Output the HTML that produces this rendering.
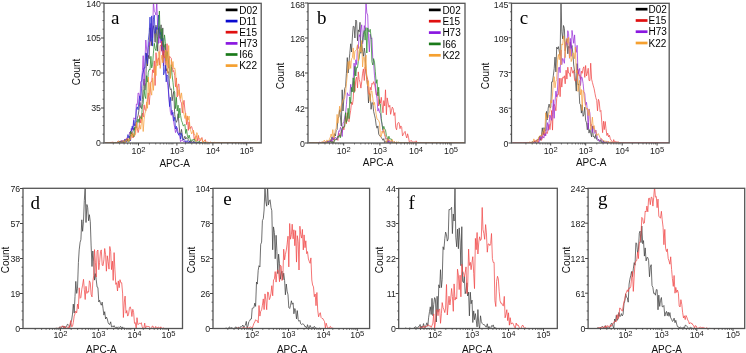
<!DOCTYPE html><html><head><meta charset="utf-8"><style>html,body{margin:0;padding:0;background:#fff;}svg{display:block;filter:blur(0.3px);}text{font-family:"Liberation Sans",sans-serif;fill:#111;}.t{font-size:8.8px;fill:#222;}.lab{font-size:10px;}.leg{font-size:10px;fill:#000;}.let{font-family:"Liberation Serif",serif;font-size:19px;fill:#000;}</style></head><body>
<svg width="746" height="353" viewBox="0 0 746 353">
<rect width="746" height="353" fill="#fff"/>
<clipPath id="ca"><rect x="104" y="3.3" width="157.2" height="139.7"/></clipPath>
<g clip-path="url(#ca)" fill="none" stroke-width="0.75" stroke-linejoin="miter">
<polyline stroke="#404040" points="105,143 105.8,143 106.7,143 107.5,143 108.4,143 109.2,143 110.1,142.7 110.9,143 111.8,142.6 112.6,142.8 113.5,142.9 114.3,143 115.2,142.6 116,142.8 116.9,142.7 117.7,142.3 118.6,143 119.4,143 120.3,142.8 121.1,143 122,142.6 122.8,141.2 123.7,140.2 124.5,141.3 125.4,141.7 126.2,140.6 127.1,139.2 127.9,140.8 128.8,139.8 129.6,137.5 130.5,135.4 131.3,135.3 132.2,132.3 133,131.5 133.9,128 134.7,129.7 135.6,124.3 136.4,123.2 137.3,117.9 138.1,115.6 139,109.9 139.8,102.4 140.7,107.5 141.5,108.6 142.4,99.6 143.2,86.4 144.1,78.9 144.9,90.1 145.8,82.4 146.6,53.4 147.5,66 148.3,55.3 149.2,58.7 150,27.8 150.9,37 151.7,45.7 152.6,30 153.4,25.7 154.3,30.2 155.1,42.3 156,25.2 156.8,38.1 157.7,51.2 158.5,28 159.4,38.3 160.2,34.8 161.1,24.8 161.9,51 162.8,27.9 163.6,56.8 164.5,46 165.3,44.1 166.2,71.1 167,68.6 167.9,73.1 168.7,71.6 169.6,86 170.4,89.6 171.3,88.8 172.1,100.8 173,94.9 173.8,91.4 174.7,114.4 175.5,119.4 176.4,122.3 177.2,120.3 178.1,113.7 178.9,123.2 179.8,132.7 180.6,134.5 181.5,129.4 182.3,134.7 183.2,140 184,138.5 184.9,136.2 185.7,139.1 186.6,137.6 187.4,138.7 188.3,139.6 189.1,141 190,143 190.8,140.9 191.7,141.8 192.5,140.7 193.4,141 194.2,142.8 195.1,142.7 195.9,142.7 196.8,143 197.6,142.3 198.5,142.2 199.3,142.6 200.2,142.7 201,143 201.9,142.8 202.7,143 203.6,142.9 204.4,142.7 205.3,142.9 206.1,143 207,143 207.8,142.8 208.7,142.9 209.5,143 210.4,143 211.2,143 212.1,143 212.9,143 213.8,143 214.6,143 215.5,143 216.3,143 217.2,143 218,143 218.9,143 219.7,143 220.6,143 221.4,143 222.3,143 223.1,143 224,143 224.8,143 225.7,143 226.5,143 227.4,143 228.2,143 229.1,143 229.9,143 230.8,143 231.6,143 232.5,143 233.3,143 234.2,143 235,143 235.9,143 236.7,143 237.6,143 238.4,143 239.3,143 240.1,143 241,143 241.8,143 242.7,143 243.5,143 244.4,143 245.2,143 246.1,143 246.9,143 247.8,143 248.6,143 249.5,143 250.3,143 251.2,143 252,143 252.9,143 253.7,143 254.6,143 255.4,143 256.3,143 257.1,143 258,143 258.8,143 259.7,143 260.5,143"/>
<polyline stroke="#9a30d8" points="105,142.9 105.8,143 106.7,143 107.5,142.8 108.4,143 109.2,143 110.1,143 110.9,142.8 111.8,143 112.6,143 113.5,142.9 114.3,142.8 115.2,143 116,142.7 116.9,143 117.7,143 118.6,142.4 119.4,142.7 120.3,141.2 121.1,142.3 122,142.5 122.8,141.2 123.7,141.6 124.5,140 125.4,138.9 126.2,141.7 127.1,138.4 127.9,137.1 128.8,137.5 129.6,132.1 130.5,133.3 131.3,128.4 132.2,130.2 133,125.9 133.9,117.8 134.7,119.1 135.6,119 136.4,104 137.3,104.7 138.1,93 139,93.5 139.8,105.6 140.7,81.6 141.5,81.4 142.4,70.7 143.2,55.7 144.1,85.1 144.9,61.9 145.8,40 146.6,49 147.5,56.8 148.3,47.3 149.2,42.4 150,45.7 150.9,23.4 151.7,37.6 152.6,37.7 153.4,1 154.3,11.3 155.1,12.5 156,15.1 156.8,1 157.7,30.1 158.5,43.4 159.4,26.6 160.2,43.1 161.1,34.8 161.9,51.7 162.8,50.8 163.6,65.8 164.5,50.4 165.3,65 166.2,73.6 167,79.8 167.9,85.7 168.7,94.9 169.6,103.9 170.4,112.2 171.3,115.3 172.1,110.1 173,118.4 173.8,122.7 174.7,127.7 175.5,132.6 176.4,129.7 177.2,127.7 178.1,132.2 178.9,134.6 179.8,136.5 180.6,141.7 181.5,140.6 182.3,139.8 183.2,141.3 184,141.6 184.9,141 185.7,143 186.6,143 187.4,141.8 188.3,142.2 189.1,143 190,143 190.8,142.6 191.7,142.8 192.5,142.7 193.4,142.9 194.2,142.9 195.1,143 195.9,143 196.8,143 197.6,142.8 198.5,143 199.3,143 200.2,143 201,143 201.9,143 202.7,143 203.6,143 204.4,143 205.3,143 206.1,143 207,143 207.8,143 208.7,143 209.5,143 210.4,143 211.2,143 212.1,143 212.9,143 213.8,143 214.6,143 215.5,143 216.3,143 217.2,143 218,143 218.9,143 219.7,143 220.6,143 221.4,143 222.3,143 223.1,143 224,143 224.8,143 225.7,143 226.5,143 227.4,143 228.2,143 229.1,143 229.9,143 230.8,143 231.6,143 232.5,143 233.3,143 234.2,143 235,143 235.9,143 236.7,143 237.6,143 238.4,143 239.3,143 240.1,143 241,143 241.8,143 242.7,143 243.5,143 244.4,143 245.2,143 246.1,143 246.9,143 247.8,143 248.6,143 249.5,143 250.3,143 251.2,143 252,143 252.9,143 253.7,143 254.6,143 255.4,143 256.3,143 257.1,143 258,143 258.8,143 259.7,143 260.5,143"/>
<polyline stroke="#2828d0" points="105,143 105.8,143 106.7,142.8 107.5,143 108.4,143 109.2,142.9 110.1,142.7 110.9,143 111.8,142.5 112.6,142.8 113.5,143 114.3,142.9 115.2,142.5 116,142.8 116.9,143 117.7,141.9 118.6,142.5 119.4,142.9 120.3,141.5 121.1,142.5 122,140.4 122.8,143 123.7,143 124.5,139.6 125.4,139.7 126.2,141.7 127.1,138.3 127.9,134.6 128.8,137.6 129.6,136.2 130.5,140.8 131.3,131.7 132.2,126.2 133,129.4 133.9,120.3 134.7,125.9 135.6,121.9 136.4,109.2 137.3,106.9 138.1,109.8 139,100.1 139.8,95.8 140.7,100.7 141.5,88.9 142.4,74.8 143.2,72.2 144.1,67.8 144.9,68.1 145.8,52.9 146.6,57.6 147.5,63.8 148.3,40.3 149.2,32.7 150,17.1 150.9,41.4 151.7,15.9 152.6,46.1 153.4,19.2 154.3,15.2 155.1,33.4 156,27.1 156.8,29.5 157.7,29.1 158.5,15 159.4,31.6 160.2,34.6 161.1,32.2 161.9,49.6 162.8,38.1 163.6,74.9 164.5,71.8 165.3,65.2 166.2,81.9 167,74.9 167.9,76.4 168.7,94 169.6,106.6 170.4,97.2 171.3,110.2 172.1,114.4 173,112.3 173.8,120.9 174.7,117.2 175.5,129 176.4,126.2 177.2,131.9 178.1,133.9 178.9,135.2 179.8,132.7 180.6,139 181.5,133.4 182.3,138.2 183.2,140.1 184,139.2 184.9,140.3 185.7,142.9 186.6,140.9 187.4,140.5 188.3,142.9 189.1,141.5 190,141.5 190.8,143 191.7,143 192.5,142.7 193.4,143 194.2,141.9 195.1,142.7 195.9,142.9 196.8,143 197.6,142.6 198.5,143 199.3,143 200.2,143 201,143 201.9,143 202.7,143 203.6,143 204.4,143 205.3,143 206.1,143 207,143 207.8,143 208.7,143 209.5,143 210.4,143 211.2,143 212.1,143 212.9,143 213.8,143 214.6,143 215.5,143 216.3,143 217.2,143 218,143 218.9,143 219.7,143 220.6,143 221.4,143 222.3,143 223.1,143 224,143 224.8,143 225.7,143 226.5,143 227.4,143 228.2,143 229.1,143 229.9,143 230.8,143 231.6,143 232.5,143 233.3,143 234.2,143 235,143 235.9,143 236.7,143 237.6,143 238.4,143 239.3,143 240.1,143 241,143 241.8,143 242.7,143 243.5,143 244.4,143 245.2,143 246.1,143 246.9,143 247.8,143 248.6,143 249.5,143 250.3,143 251.2,143 252,143 252.9,143 253.7,143 254.6,143 255.4,143 256.3,143 257.1,143 258,143 258.8,143 259.7,143 260.5,143"/>
<polyline stroke="#f04848" points="105,143 105.8,143 106.7,143 107.5,142.8 108.4,142.8 109.2,143 110.1,143 110.9,142.2 111.8,142.5 112.6,142.2 113.5,142.4 114.3,143 115.2,142.8 116,142.6 116.9,142.8 117.7,142.1 118.6,140.9 119.4,141.6 120.3,141.1 121.1,141 122,141 122.8,141.3 123.7,142.4 124.5,143 125.4,141.2 126.2,140.7 127.1,138.3 127.9,141 128.8,140.1 129.6,140.7 130.5,139.9 131.3,132.2 132.2,133 133,138 133.9,136.2 134.7,135.8 135.6,130.3 136.4,122.7 137.3,128.5 138.1,132.6 139,129.2 139.8,115.5 140.7,123 141.5,118.7 142.4,113.1 143.2,117.1 144.1,104.8 144.9,109.4 145.8,110.6 146.6,103.7 147.5,99.1 148.3,92.9 149.2,104.7 150,94.7 150.9,81.7 151.7,81.6 152.6,69.8 153.4,72.7 154.3,60.9 155.1,85.5 156,52.7 156.8,63.1 157.7,60.2 158.5,57.8 159.4,65.1 160.2,45.4 161.1,46 161.9,41 162.8,61.5 163.6,50.7 164.5,58 165.3,55.4 166.2,62.5 167,43.7 167.9,64.9 168.7,68.3 169.6,56.3 170.4,57.3 171.3,58.4 172.1,66.4 173,71.8 173.8,70.4 174.7,75.3 175.5,86.8 176.4,77.9 177.2,97 178.1,84.4 178.9,84 179.8,97.3 180.6,101.4 181.5,103.1 182.3,112.9 183.2,105.4 184,100.3 184.9,110 185.7,115.7 186.6,124.6 187.4,115.9 188.3,130.4 189.1,122 190,128.9 190.8,126.9 191.7,126.6 192.5,129.8 193.4,131 194.2,139.6 195.1,137.2 195.9,136.8 196.8,135.9 197.6,140.9 198.5,135.5 199.3,140.8 200.2,141 201,139.1 201.9,137.5 202.7,141.6 203.6,141.6 204.4,141 205.3,139.6 206.1,142.1 207,143 207.8,141.8 208.7,143 209.5,142.5 210.4,142 211.2,143 212.1,142.7 212.9,142.9 213.8,142.7 214.6,143 215.5,143 216.3,142.9 217.2,142.8 218,142.8 218.9,142.9 219.7,142.8 220.6,143 221.4,142.8 222.3,142.9 223.1,142.9 224,142.8 224.8,143 225.7,143 226.5,143 227.4,142.9 228.2,142.9 229.1,143 229.9,143 230.8,143 231.6,143 232.5,143 233.3,143 234.2,143 235,143 235.9,143 236.7,143 237.6,143 238.4,143 239.3,143 240.1,143 241,143 241.8,143 242.7,143 243.5,143 244.4,143 245.2,143 246.1,143 246.9,143 247.8,143 248.6,143 249.5,143 250.3,143 251.2,143 252,143 252.9,143 253.7,143 254.6,143 255.4,143 256.3,143 257.1,143 258,143 258.8,143 259.7,143 260.5,143"/>
<polyline stroke="#2a8a2a" points="105,143 105.8,143 106.7,143 107.5,143 108.4,143 109.2,142.7 110.1,143 110.9,143 111.8,143 112.6,143 113.5,143 114.3,142.6 115.2,142.6 116,143 116.9,143 117.7,143 118.6,143 119.4,141.7 120.3,141.7 121.1,142.1 122,142.6 122.8,141.5 123.7,142.3 124.5,143 125.4,141.2 126.2,139.9 127.1,139.6 127.9,141.6 128.8,141.9 129.6,141 130.5,131.1 131.3,133.9 132.2,134.5 133,134 133.9,136.8 134.7,126.9 135.6,128 136.4,127.8 137.3,122 138.1,119 139,122.5 139.8,117.6 140.7,116.9 141.5,119.1 142.4,105.1 143.2,103.5 144.1,89.8 144.9,95.9 145.8,98.6 146.6,75.7 147.5,82.1 148.3,72.3 149.2,69.4 150,70 150.9,56.3 151.7,67.9 152.6,64.3 153.4,53.2 154.3,43.3 155.1,48.5 156,50.7 156.8,43.9 157.7,36.5 158.5,28 159.4,11 160.2,35.9 161.1,39.5 161.9,28.7 162.8,43 163.6,47.2 164.5,34.9 165.3,41.7 166.2,61 167,51.5 167.9,55 168.7,63 169.6,68.7 170.4,77.9 171.3,64.7 172.1,75.2 173,82.4 173.8,90.5 174.7,92.2 175.5,108.6 176.4,97.3 177.2,111.1 178.1,105.2 178.9,118 179.8,108.2 180.6,115.5 181.5,120.7 182.3,122.5 183.2,125.8 184,125.6 184.9,124.4 185.7,133.5 186.6,129.3 187.4,135.9 188.3,138.4 189.1,135.1 190,138.5 190.8,141.1 191.7,139.8 192.5,139.9 193.4,139.8 194.2,139 195.1,141.5 195.9,140.3 196.8,141.5 197.6,143 198.5,142.8 199.3,141.2 200.2,143 201,143 201.9,142.4 202.7,143 203.6,142.2 204.4,143 205.3,142.5 206.1,142.7 207,142.9 207.8,143 208.7,143 209.5,142.9 210.4,143 211.2,143 212.1,143 212.9,143 213.8,143 214.6,143 215.5,143 216.3,143 217.2,143 218,143 218.9,143 219.7,143 220.6,143 221.4,143 222.3,143 223.1,143 224,143 224.8,143 225.7,143 226.5,143 227.4,143 228.2,143 229.1,143 229.9,143 230.8,143 231.6,143 232.5,143 233.3,143 234.2,143 235,143 235.9,143 236.7,143 237.6,143 238.4,143 239.3,143 240.1,143 241,143 241.8,143 242.7,143 243.5,143 244.4,143 245.2,143 246.1,143 246.9,143 247.8,143 248.6,143 249.5,143 250.3,143 251.2,143 252,143 252.9,143 253.7,143 254.6,143 255.4,143 256.3,143 257.1,143 258,143 258.8,143 259.7,143 260.5,143"/>
<polyline stroke="#f5a040" points="105,142.9 105.8,143 106.7,143 107.5,143 108.4,142.8 109.2,142.7 110.1,143 110.9,143 111.8,142.8 112.6,142.8 113.5,143 114.3,142.7 115.2,143 116,142.9 116.9,143 117.7,141.7 118.6,141.4 119.4,142.7 120.3,142.4 121.1,142 122,143 122.8,141.6 123.7,140.1 124.5,143 125.4,141.8 126.2,139.6 127.1,141.2 127.9,141.9 128.8,138.6 129.6,140.4 130.5,138.4 131.3,133.9 132.2,137.3 133,132.7 133.9,135.8 134.7,135.1 135.6,134.2 136.4,122.2 137.3,130.3 138.1,129.4 139,127.8 139.8,125.2 140.7,129.2 141.5,121.7 142.4,116.7 143.2,131.5 144.1,119.7 144.9,113.5 145.8,111 146.6,102.1 147.5,108.3 148.3,77 149.2,95.4 150,82.5 150.9,91.1 151.7,95.2 152.6,77.9 153.4,90.4 154.3,76.6 155.1,65.9 156,75.6 156.8,59.6 157.7,65.8 158.5,51.7 159.4,51.6 160.2,68.4 161.1,60.5 161.9,55 162.8,63 163.6,58.6 164.5,54.3 165.3,49.9 166.2,65.2 167,50.8 167.9,73.4 168.7,45.5 169.6,65.8 170.4,78.6 171.3,59.8 172.1,67 173,61.5 173.8,69.2 174.7,67.9 175.5,71.4 176.4,87.5 177.2,86.5 178.1,95.7 178.9,89.7 179.8,93.3 180.6,98.5 181.5,92.9 182.3,100.2 183.2,111 184,114.5 184.9,118.5 185.7,113.1 186.6,121.5 187.4,116 188.3,119.9 189.1,116.1 190,128.7 190.8,130.9 191.7,133.9 192.5,132 193.4,130 194.2,134.4 195.1,134.6 195.9,141.7 196.8,132.6 197.6,134.5 198.5,137.8 199.3,138.4 200.2,138.7 201,139.4 201.9,138.5 202.7,143 203.6,143 204.4,140.4 205.3,141.2 206.1,142.2 207,142.8 207.8,142.5 208.7,143 209.5,143 210.4,142.1 211.2,142.8 212.1,143 212.9,143 213.8,143 214.6,142.2 215.5,142.7 216.3,142.8 217.2,142.8 218,143 218.9,142.9 219.7,142.9 220.6,142.9 221.4,142.8 222.3,143 223.1,143 224,143 224.8,143 225.7,143 226.5,143 227.4,143 228.2,143 229.1,143 229.9,143 230.8,143 231.6,143 232.5,143 233.3,143 234.2,143 235,143 235.9,143 236.7,143 237.6,143 238.4,143 239.3,143 240.1,143 241,143 241.8,143 242.7,143 243.5,143 244.4,143 245.2,143 246.1,143 246.9,143 247.8,143 248.6,143 249.5,143 250.3,143 251.2,143 252,143 252.9,143 253.7,143 254.6,143 255.4,143 256.3,143 257.1,143 258,143 258.8,143 259.7,143 260.5,143"/>
</g>
<rect x="104" y="3.3" width="157.2" height="139.7" fill="none" stroke="#555" stroke-width="1.3"/>
<line x1="101" y1="143" x2="104" y2="143" stroke="#444" stroke-width="1"/>
<text class="t" x="101" y="146.4" text-anchor="end">0</text>
<line x1="101" y1="108" x2="104" y2="108" stroke="#444" stroke-width="1"/>
<text class="t" x="101" y="111.4" text-anchor="end">35</text>
<line x1="101" y1="73" x2="104" y2="73" stroke="#444" stroke-width="1"/>
<text class="t" x="101" y="76.4" text-anchor="end">70</text>
<line x1="101" y1="38" x2="104" y2="38" stroke="#444" stroke-width="1"/>
<text class="t" x="101" y="41.4" text-anchor="end">105</text>
<line x1="101" y1="3" x2="104" y2="3" stroke="#444" stroke-width="1"/>
<text class="t" x="101" y="7.2" text-anchor="end">140</text>
<line x1="102.5" y1="134.2" x2="104" y2="134.2" stroke="#444" stroke-width="0.8"/>
<line x1="102.5" y1="125.5" x2="104" y2="125.5" stroke="#444" stroke-width="0.8"/>
<line x1="102.5" y1="116.8" x2="104" y2="116.8" stroke="#444" stroke-width="0.8"/>
<line x1="102.5" y1="99.2" x2="104" y2="99.2" stroke="#444" stroke-width="0.8"/>
<line x1="102.5" y1="90.5" x2="104" y2="90.5" stroke="#444" stroke-width="0.8"/>
<line x1="102.5" y1="81.8" x2="104" y2="81.8" stroke="#444" stroke-width="0.8"/>
<line x1="102.5" y1="64.2" x2="104" y2="64.2" stroke="#444" stroke-width="0.8"/>
<line x1="102.5" y1="55.5" x2="104" y2="55.5" stroke="#444" stroke-width="0.8"/>
<line x1="102.5" y1="46.8" x2="104" y2="46.8" stroke="#444" stroke-width="0.8"/>
<line x1="102.5" y1="29.2" x2="104" y2="29.2" stroke="#444" stroke-width="0.8"/>
<line x1="102.5" y1="20.5" x2="104" y2="20.5" stroke="#444" stroke-width="0.8"/>
<line x1="102.5" y1="11.8" x2="104" y2="11.8" stroke="#444" stroke-width="0.8"/>
<text class="t" x="131.5" y="154.3">10<tspan dy="-2.6" font-size="7.6px">2</tspan></text>
<line x1="138.5" y1="143" x2="138.5" y2="145.5" stroke="#444" stroke-width="1"/>
<text class="t" x="169.9" y="154.3">10<tspan dy="-2.6" font-size="7.6px">3</tspan></text>
<line x1="176.9" y1="143" x2="176.9" y2="145.5" stroke="#444" stroke-width="1"/>
<text class="t" x="205.9" y="154.3">10<tspan dy="-2.6" font-size="7.6px">4</tspan></text>
<line x1="212.9" y1="143" x2="212.9" y2="145.5" stroke="#444" stroke-width="1"/>
<text class="t" x="239.7" y="154.3">10<tspan dy="-2.6" font-size="7.6px">5</tspan></text>
<line x1="246.7" y1="143" x2="246.7" y2="145.5" stroke="#444" stroke-width="1"/>
<line x1="113.3" y1="143" x2="113.3" y2="144.5" stroke="#444" stroke-width="0.7"/>
<line x1="119.6" y1="143" x2="119.6" y2="144.5" stroke="#444" stroke-width="0.7"/>
<line x1="124.1" y1="143" x2="124.1" y2="144.5" stroke="#444" stroke-width="0.7"/>
<line x1="127.6" y1="143" x2="127.6" y2="144.5" stroke="#444" stroke-width="0.7"/>
<line x1="130.5" y1="143" x2="130.5" y2="144.5" stroke="#444" stroke-width="0.7"/>
<line x1="132.9" y1="143" x2="132.9" y2="144.5" stroke="#444" stroke-width="0.7"/>
<line x1="135" y1="143" x2="135" y2="144.5" stroke="#444" stroke-width="0.7"/>
<line x1="136.8" y1="143" x2="136.8" y2="144.5" stroke="#444" stroke-width="0.7"/>
<line x1="149.4" y1="143" x2="149.4" y2="144.5" stroke="#444" stroke-width="0.7"/>
<line x1="155.7" y1="143" x2="155.7" y2="144.5" stroke="#444" stroke-width="0.7"/>
<line x1="160.2" y1="143" x2="160.2" y2="144.5" stroke="#444" stroke-width="0.7"/>
<line x1="163.7" y1="143" x2="163.7" y2="144.5" stroke="#444" stroke-width="0.7"/>
<line x1="166.6" y1="143" x2="166.6" y2="144.5" stroke="#444" stroke-width="0.7"/>
<line x1="169" y1="143" x2="169" y2="144.5" stroke="#444" stroke-width="0.7"/>
<line x1="171.1" y1="143" x2="171.1" y2="144.5" stroke="#444" stroke-width="0.7"/>
<line x1="172.9" y1="143" x2="172.9" y2="144.5" stroke="#444" stroke-width="0.7"/>
<line x1="185.4" y1="143" x2="185.4" y2="144.5" stroke="#444" stroke-width="0.7"/>
<line x1="191.8" y1="143" x2="191.8" y2="144.5" stroke="#444" stroke-width="0.7"/>
<line x1="196.3" y1="143" x2="196.3" y2="144.5" stroke="#444" stroke-width="0.7"/>
<line x1="199.8" y1="143" x2="199.8" y2="144.5" stroke="#444" stroke-width="0.7"/>
<line x1="202.6" y1="143" x2="202.6" y2="144.5" stroke="#444" stroke-width="0.7"/>
<line x1="205" y1="143" x2="205" y2="144.5" stroke="#444" stroke-width="0.7"/>
<line x1="207.1" y1="143" x2="207.1" y2="144.5" stroke="#444" stroke-width="0.7"/>
<line x1="209" y1="143" x2="209" y2="144.5" stroke="#444" stroke-width="0.7"/>
<line x1="221.5" y1="143" x2="221.5" y2="144.5" stroke="#444" stroke-width="0.7"/>
<line x1="227.8" y1="143" x2="227.8" y2="144.5" stroke="#444" stroke-width="0.7"/>
<line x1="232.3" y1="143" x2="232.3" y2="144.5" stroke="#444" stroke-width="0.7"/>
<line x1="235.8" y1="143" x2="235.8" y2="144.5" stroke="#444" stroke-width="0.7"/>
<line x1="238.7" y1="143" x2="238.7" y2="144.5" stroke="#444" stroke-width="0.7"/>
<line x1="241.1" y1="143" x2="241.1" y2="144.5" stroke="#444" stroke-width="0.7"/>
<line x1="243.2" y1="143" x2="243.2" y2="144.5" stroke="#444" stroke-width="0.7"/>
<line x1="245" y1="143" x2="245" y2="144.5" stroke="#444" stroke-width="0.7"/>
<text class="lab" x="159.4" y="166.7">APC-A</text>
<text class="lab" transform="translate(79.5,72) rotate(-90)" text-anchor="middle">Count</text>
<text class="let" x="111" y="24.3">a</text>
<line x1="225.7" y1="9.9" x2="237.5" y2="9.9" stroke="#000000" stroke-width="2.7"/>
<text class="leg" x="239.2" y="13.5">D02</text>
<line x1="225.7" y1="21.1" x2="237.5" y2="21.1" stroke="#0a0ad0" stroke-width="2.7"/>
<text class="leg" x="239.2" y="24.6">D11</text>
<line x1="225.7" y1="32.2" x2="237.5" y2="32.2" stroke="#e01010" stroke-width="2.7"/>
<text class="leg" x="239.2" y="35.8">E15</text>
<line x1="225.7" y1="43.4" x2="237.5" y2="43.4" stroke="#8a18e0" stroke-width="2.7"/>
<text class="leg" x="239.2" y="47">H73</text>
<line x1="225.7" y1="54.5" x2="237.5" y2="54.5" stroke="#1a7a1a" stroke-width="2.7"/>
<text class="leg" x="239.2" y="58.1">I66</text>
<line x1="225.7" y1="65.6" x2="237.5" y2="65.6" stroke="#f5a030" stroke-width="2.7"/>
<text class="leg" x="239.2" y="69.2">K22</text>
<clipPath id="cb"><rect x="308" y="3.3" width="157" height="139.7"/></clipPath>
<g clip-path="url(#cb)" fill="none" stroke-width="0.75" stroke-linejoin="miter">
<polyline stroke="#404040" points="309,143 309.9,143 310.7,143 311.6,143 312.4,142.9 313.3,142.9 314.1,143 315,143 315.8,143 316.7,143 317.5,143 318.4,143 319.2,143 320.1,143 320.9,142.8 321.8,142.4 322.6,142.8 323.5,142.8 324.3,142.7 325.2,142.5 326,142.3 326.9,142 327.7,140.9 328.6,142.1 329.4,141.2 330.3,139.8 331.1,140.8 332,136.7 332.8,139.7 333.7,139.7 334.5,133.7 335.4,135.9 336.2,130.6 337.1,129.6 337.9,118.5 338.8,116.6 339.6,109.7 340.5,117.9 341.3,126.2 342.2,89.8 343,111 343.9,98.3 344.7,88.6 345.6,86.4 346.4,73.3 347.3,57.6 348.1,73 349,61.9 349.8,53.2 350.7,43.8 351.5,52 352.4,37 353.2,26.3 354.1,26.6 354.9,38 355.8,20 356.6,21.2 357.5,40.8 358.3,29.9 359.2,31.8 360,22.3 360.9,53.3 361.7,42.8 362.6,51.4 363.4,56.3 364.3,48 365.1,53.5 366,72.9 366.8,79.2 367.7,86.8 368.5,103 369.4,93.4 370.2,93.8 371.1,109.3 371.9,102.7 372.8,102.9 373.6,111.3 374.5,115.1 375.3,118.5 376.2,125.4 377,128.2 377.9,125.9 378.7,134.1 379.6,135.7 380.4,135.9 381.3,137.4 382.1,138.8 383,140.3 383.8,138.6 384.7,142.8 385.5,141.6 386.4,141.4 387.2,142.8 388.1,138.7 388.9,143 389.8,142.7 390.6,142.4 391.5,142.5 392.3,142.6 393.2,142.9 394,142.7 394.9,142.8 395.7,142.8 396.6,142.7 397.4,143 398.3,142.6 399.1,142.9 400,143 400.8,143 401.7,143 402.5,143 403.4,143 404.2,143 405.1,142.9 405.9,143 406.8,143 407.6,143 408.5,143 409.3,143 410.2,143 411,143 411.9,143 412.7,143 413.6,143 414.4,143 415.3,143 416.1,143 417,143 417.8,143 418.7,143 419.5,143 420.4,143 421.2,143 422.1,143 422.9,143 423.8,143 424.6,143 425.5,143 426.3,143 427.2,143 428,143 428.9,143 429.7,143 430.6,143 431.4,143 432.3,143 433.1,143 434,143 434.8,143 435.7,143 436.5,143 437.4,143 438.2,143 439.1,143 439.9,143 440.8,143 441.6,143 442.5,143 443.3,143 444.2,143 445,143 445.9,143 446.7,143 447.6,143 448.4,143 449.3,143 450.1,143 451,143 451.8,143 452.7,143 453.5,143 454.4,143 455.2,143 456.1,143 456.9,143 457.8,143 458.6,143 459.5,143 460.3,143 461.2,143 462,143 462.9,143 463.7,143 464.6,143"/>
<polyline stroke="#f04848" points="309,143 309.9,143 310.7,143 311.6,143 312.4,143 313.3,143 314.1,143 315,143 315.8,143 316.7,143 317.5,143 318.4,143 319.2,142.8 320.1,142.5 320.9,142.7 321.8,142.9 322.6,142.9 323.5,142.9 324.3,142.9 325.2,142.3 326,142.9 326.9,142.5 327.7,142.9 328.6,141.7 329.4,142.7 330.3,142.2 331.1,139.5 332,142.1 332.8,141.4 333.7,142.9 334.5,138.9 335.4,139.4 336.2,139.1 337.1,139 337.9,140.4 338.8,132.9 339.6,134.8 340.5,136.5 341.3,130.6 342.2,132.4 343,126.5 343.9,129.8 344.7,124.7 345.6,116.2 346.4,123.8 347.3,112.7 348.1,120.5 349,121.7 349.8,115.8 350.7,110.3 351.5,102.1 352.4,104.6 353.2,99.7 354.1,81.4 354.9,91.4 355.8,79.3 356.6,77.1 357.5,87.9 358.3,71.9 359.2,79.6 360,82.2 360.9,88.1 361.7,81.8 362.6,73.2 363.4,68.9 364.3,80.5 365.1,67.1 366,71 366.8,75.8 367.7,79.3 368.5,93.6 369.4,94.7 370.2,87.3 371.1,90.1 371.9,83.3 372.8,84.3 373.6,81.7 374.5,84 375.3,87.9 376.2,95 377,94.6 377.9,92.2 378.7,106 379.6,99.6 380.4,103.3 381.3,97.3 382.1,105 383,112.8 383.8,100.6 384.7,105.9 385.5,89.8 386.4,114.8 387.2,97.9 388.1,102.9 388.9,107.2 389.8,105.3 390.6,114.3 391.5,110.3 392.3,107.1 393.2,108.8 394,115.6 394.9,112.6 395.7,127.5 396.6,129.8 397.4,123.8 398.3,122.5 399.1,122.8 400,128.7 400.8,125.9 401.7,127.4 402.5,135.9 403.4,134.4 404.2,132.6 405.1,131.4 405.9,135.4 406.8,138 407.6,133.8 408.5,137.3 409.3,141.9 410.2,141.3 411,140.5 411.9,140.9 412.7,143 413.6,141.8 414.4,141.7 415.3,143 416.1,140.8 417,142.6 417.8,142.4 418.7,142.9 419.5,143 420.4,142.5 421.2,143 422.1,142.7 422.9,143 423.8,142.8 424.6,142.9 425.5,143 426.3,142.7 427.2,143 428,142.8 428.9,142.7 429.7,143 430.6,143 431.4,143 432.3,143 433.1,143 434,142.9 434.8,143 435.7,143 436.5,143 437.4,143 438.2,143 439.1,143 439.9,143 440.8,143 441.6,143 442.5,143 443.3,143 444.2,143 445,143 445.9,143 446.7,143 447.6,143 448.4,143 449.3,143 450.1,143 451,143 451.8,143 452.7,143 453.5,143 454.4,143 455.2,143 456.1,143 456.9,143 457.8,143 458.6,143 459.5,143 460.3,143 461.2,143 462,143 462.9,143 463.7,143 464.6,143"/>
<polyline stroke="#9a30d8" points="309,143 309.9,143 310.7,142.9 311.6,142.9 312.4,142.9 313.3,142.8 314.1,142.9 315,142.8 315.8,142.7 316.7,142.8 317.5,142.9 318.4,142.7 319.2,142.2 320.1,142.5 320.9,143 321.8,142.3 322.6,142.2 323.5,143 324.3,142.7 325.2,141.4 326,142 326.9,141.7 327.7,142.4 328.6,141.2 329.4,142.1 330.3,141.2 331.1,139.9 332,142.3 332.8,137.2 333.7,139 334.5,139 335.4,137 336.2,138.1 337.1,139.7 337.9,136.8 338.8,130.8 339.6,131.3 340.5,127.3 341.3,129.8 342.2,136.5 343,123.1 343.9,121.6 344.7,117.1 345.6,112.6 346.4,104.8 347.3,92.7 348.1,95.5 349,94.7 349.8,95.7 350.7,84.3 351.5,91.9 352.4,85.5 353.2,80.2 354.1,63.1 354.9,75.3 355.8,59.8 356.6,64.6 357.5,45.5 358.3,48.5 359.2,34.7 360,36.8 360.9,29.6 361.7,24.8 362.6,43.8 363.4,37.5 364.3,25.6 365.1,30.9 366,1 366.8,12.9 367.7,15 368.5,38.1 369.4,51.9 370.2,34.1 371.1,38.7 371.9,37.9 372.8,59.3 373.6,62.8 374.5,75.8 375.3,83.2 376.2,92.7 377,98.6 377.9,111.1 378.7,108.5 379.6,112.7 380.4,113.4 381.3,120.9 382.1,124.1 383,132 383.8,130.9 384.7,133.7 385.5,138.7 386.4,138.4 387.2,139.1 388.1,142.5 388.9,139.6 389.8,142.2 390.6,141.7 391.5,141.2 392.3,142.3 393.2,142.2 394,141.8 394.9,142.4 395.7,142.8 396.6,142.5 397.4,142.8 398.3,142.8 399.1,143 400,142.9 400.8,143 401.7,142.9 402.5,143 403.4,143 404.2,143 405.1,143 405.9,143 406.8,143 407.6,143 408.5,143 409.3,143 410.2,143 411,143 411.9,143 412.7,143 413.6,143 414.4,143 415.3,143 416.1,143 417,143 417.8,143 418.7,143 419.5,143 420.4,143 421.2,143 422.1,143 422.9,143 423.8,143 424.6,143 425.5,143 426.3,143 427.2,143 428,143 428.9,143 429.7,143 430.6,143 431.4,143 432.3,143 433.1,143 434,143 434.8,143 435.7,143 436.5,143 437.4,143 438.2,143 439.1,143 439.9,143 440.8,143 441.6,143 442.5,143 443.3,143 444.2,143 445,143 445.9,143 446.7,143 447.6,143 448.4,143 449.3,143 450.1,143 451,143 451.8,143 452.7,143 453.5,143 454.4,143 455.2,143 456.1,143 456.9,143 457.8,143 458.6,143 459.5,143 460.3,143 461.2,143 462,143 462.9,143 463.7,143 464.6,143"/>
<polyline stroke="#2a8a2a" points="309,143 309.9,143 310.7,142.9 311.6,143 312.4,143 313.3,142.9 314.1,143 315,142.9 315.8,143 316.7,143 317.5,143 318.4,143 319.2,143 320.1,143 320.9,142.8 321.8,142.8 322.6,142.5 323.5,142.8 324.3,143 325.2,142.7 326,142.3 326.9,142.3 327.7,142.4 328.6,142.9 329.4,142.3 330.3,141.7 331.1,141.3 332,143 332.8,141.7 333.7,143 334.5,140 335.4,139.8 336.2,139.9 337.1,138.2 337.9,136.2 338.8,137.4 339.6,134.9 340.5,137.7 341.3,131.8 342.2,127.8 343,126.9 343.9,127.5 344.7,126.3 345.6,112.6 346.4,122.4 347.3,119.6 348.1,108.3 349,118.7 349.8,96.9 350.7,103.5 351.5,87.4 352.4,91.8 353.2,77.8 354.1,92.5 354.9,66.4 355.8,76 356.6,67.4 357.5,67.7 358.3,61.7 359.2,58 360,50 360.9,46.1 361.7,42.8 362.6,42.1 363.4,34.2 364.3,30.5 365.1,40.1 366,27.6 366.8,53 367.7,27.9 368.5,31.4 369.4,31.8 370.2,29.3 371.1,37.1 371.9,61.7 372.8,65 373.6,58.6 374.5,62.1 375.3,71.2 376.2,83.4 377,79.7 377.9,95.9 378.7,87.2 379.6,104.2 380.4,104.1 381.3,118.4 382.1,124.8 383,129.7 383.8,126.3 384.7,128.9 385.5,130.1 386.4,135.4 387.2,137.3 388.1,139.4 388.9,136.2 389.8,139 390.6,139 391.5,139.1 392.3,141.8 393.2,143 394,142.7 394.9,142.2 395.7,142.7 396.6,143 397.4,142.6 398.3,142 399.1,142.9 400,143 400.8,142.9 401.7,142.9 402.5,143 403.4,143 404.2,143 405.1,143 405.9,143 406.8,143 407.6,143 408.5,143 409.3,143 410.2,143 411,143 411.9,143 412.7,143 413.6,143 414.4,143 415.3,143 416.1,143 417,143 417.8,143 418.7,143 419.5,143 420.4,143 421.2,143 422.1,143 422.9,143 423.8,143 424.6,143 425.5,143 426.3,143 427.2,143 428,143 428.9,143 429.7,143 430.6,143 431.4,143 432.3,143 433.1,143 434,143 434.8,143 435.7,143 436.5,143 437.4,143 438.2,143 439.1,143 439.9,143 440.8,143 441.6,143 442.5,143 443.3,143 444.2,143 445,143 445.9,143 446.7,143 447.6,143 448.4,143 449.3,143 450.1,143 451,143 451.8,143 452.7,143 453.5,143 454.4,143 455.2,143 456.1,143 456.9,143 457.8,143 458.6,143 459.5,143 460.3,143 461.2,143 462,143 462.9,143 463.7,143 464.6,143"/>
<polyline stroke="#f5a040" points="309,143 309.9,143 310.7,142.9 311.6,143 312.4,143 313.3,142.9 314.1,143 315,142.6 315.8,142.7 316.7,142.9 317.5,142.8 318.4,143 319.2,142.9 320.1,143 320.9,142.8 321.8,142 322.6,141.9 323.5,141.7 324.3,140.1 325.2,141.7 326,142.7 326.9,139.9 327.7,140.8 328.6,140.5 329.4,139.3 330.3,137.2 331.1,134 332,136.5 332.8,129.6 333.7,138.2 334.5,135.7 335.4,129.3 336.2,128.9 337.1,114.4 337.9,123.3 338.8,116.3 339.6,106.2 340.5,112.1 341.3,104.8 342.2,103.1 343,99.5 343.9,99.4 344.7,97.8 345.6,92.2 346.4,83.8 347.3,74.5 348.1,61.5 349,69.4 349.8,60.7 350.7,68.4 351.5,58.8 352.4,57.8 353.2,47.9 354.1,59.6 354.9,51.2 355.8,50.4 356.6,49.5 357.5,44.7 358.3,61 359.2,51.3 360,46.6 360.9,52.1 361.7,40.5 362.6,67 363.4,57.4 364.3,57.5 365.1,69.3 366,55.2 366.8,81.3 367.7,86 368.5,80.7 369.4,97.2 370.2,101.3 371.1,91.2 371.9,91 372.8,98.4 373.6,105 374.5,102.4 375.3,108.5 376.2,114.4 377,119.2 377.9,119.5 378.7,120.6 379.6,123.1 380.4,136.9 381.3,136.2 382.1,131 383,133.4 383.8,129.2 384.7,135.7 385.5,135.4 386.4,142.7 387.2,140.9 388.1,138.7 388.9,140.8 389.8,139.9 390.6,141.5 391.5,141.1 392.3,139.5 393.2,143 394,141.6 394.9,141.9 395.7,142.8 396.6,141.7 397.4,142.4 398.3,142.3 399.1,142.8 400,142.8 400.8,142.8 401.7,142.9 402.5,143 403.4,142.7 404.2,143 405.1,142.7 405.9,143 406.8,143 407.6,143 408.5,143 409.3,143 410.2,142.9 411,143 411.9,143 412.7,143 413.6,143 414.4,143 415.3,143 416.1,143 417,143 417.8,143 418.7,143 419.5,143 420.4,143 421.2,143 422.1,143 422.9,143 423.8,143 424.6,143 425.5,143 426.3,143 427.2,143 428,143 428.9,143 429.7,143 430.6,143 431.4,143 432.3,143 433.1,143 434,143 434.8,143 435.7,143 436.5,143 437.4,143 438.2,143 439.1,143 439.9,143 440.8,143 441.6,143 442.5,143 443.3,143 444.2,143 445,143 445.9,143 446.7,143 447.6,143 448.4,143 449.3,143 450.1,143 451,143 451.8,143 452.7,143 453.5,143 454.4,143 455.2,143 456.1,143 456.9,143 457.8,143 458.6,143 459.5,143 460.3,143 461.2,143 462,143 462.9,143 463.7,143 464.6,143"/>
</g>
<rect x="308" y="3.3" width="157" height="139.7" fill="none" stroke="#555" stroke-width="1.3"/>
<line x1="305" y1="143" x2="308" y2="143" stroke="#444" stroke-width="1"/>
<text class="t" x="305" y="147.4" text-anchor="end">0</text>
<line x1="305" y1="108" x2="308" y2="108" stroke="#444" stroke-width="1"/>
<text class="t" x="305" y="112.4" text-anchor="end">42</text>
<line x1="305" y1="73" x2="308" y2="73" stroke="#444" stroke-width="1"/>
<text class="t" x="305" y="77.4" text-anchor="end">84</text>
<line x1="305" y1="38" x2="308" y2="38" stroke="#444" stroke-width="1"/>
<text class="t" x="305" y="42.4" text-anchor="end">126</text>
<line x1="305" y1="3" x2="308" y2="3" stroke="#444" stroke-width="1"/>
<text class="t" x="305" y="8.2" text-anchor="end">168</text>
<line x1="306.5" y1="134.2" x2="308" y2="134.2" stroke="#444" stroke-width="0.8"/>
<line x1="306.5" y1="125.5" x2="308" y2="125.5" stroke="#444" stroke-width="0.8"/>
<line x1="306.5" y1="116.8" x2="308" y2="116.8" stroke="#444" stroke-width="0.8"/>
<line x1="306.5" y1="99.2" x2="308" y2="99.2" stroke="#444" stroke-width="0.8"/>
<line x1="306.5" y1="90.5" x2="308" y2="90.5" stroke="#444" stroke-width="0.8"/>
<line x1="306.5" y1="81.8" x2="308" y2="81.8" stroke="#444" stroke-width="0.8"/>
<line x1="306.5" y1="64.2" x2="308" y2="64.2" stroke="#444" stroke-width="0.8"/>
<line x1="306.5" y1="55.5" x2="308" y2="55.5" stroke="#444" stroke-width="0.8"/>
<line x1="306.5" y1="46.8" x2="308" y2="46.8" stroke="#444" stroke-width="0.8"/>
<line x1="306.5" y1="29.2" x2="308" y2="29.2" stroke="#444" stroke-width="0.8"/>
<line x1="306.5" y1="20.5" x2="308" y2="20.5" stroke="#444" stroke-width="0.8"/>
<line x1="306.5" y1="11.8" x2="308" y2="11.8" stroke="#444" stroke-width="0.8"/>
<text class="t" x="336.7" y="154.3">10<tspan dy="-2.6" font-size="7.6px">2</tspan></text>
<line x1="343.7" y1="143" x2="343.7" y2="145.5" stroke="#444" stroke-width="1"/>
<text class="t" x="372.9" y="154.3">10<tspan dy="-2.6" font-size="7.6px">3</tspan></text>
<line x1="379.9" y1="143" x2="379.9" y2="145.5" stroke="#444" stroke-width="1"/>
<text class="t" x="409" y="154.3">10<tspan dy="-2.6" font-size="7.6px">4</tspan></text>
<line x1="416" y1="143" x2="416" y2="145.5" stroke="#444" stroke-width="1"/>
<text class="t" x="444" y="154.3">10<tspan dy="-2.6" font-size="7.6px">5</tspan></text>
<line x1="451" y1="143" x2="451" y2="145.5" stroke="#444" stroke-width="1"/>
<line x1="318.7" y1="143" x2="318.7" y2="144.5" stroke="#444" stroke-width="0.7"/>
<line x1="325" y1="143" x2="325" y2="144.5" stroke="#444" stroke-width="0.7"/>
<line x1="329.5" y1="143" x2="329.5" y2="144.5" stroke="#444" stroke-width="0.7"/>
<line x1="332.9" y1="143" x2="332.9" y2="144.5" stroke="#444" stroke-width="0.7"/>
<line x1="335.8" y1="143" x2="335.8" y2="144.5" stroke="#444" stroke-width="0.7"/>
<line x1="338.2" y1="143" x2="338.2" y2="144.5" stroke="#444" stroke-width="0.7"/>
<line x1="340.2" y1="143" x2="340.2" y2="144.5" stroke="#444" stroke-width="0.7"/>
<line x1="342.1" y1="143" x2="342.1" y2="144.5" stroke="#444" stroke-width="0.7"/>
<line x1="354.5" y1="143" x2="354.5" y2="144.5" stroke="#444" stroke-width="0.7"/>
<line x1="360.8" y1="143" x2="360.8" y2="144.5" stroke="#444" stroke-width="0.7"/>
<line x1="365.2" y1="143" x2="365.2" y2="144.5" stroke="#444" stroke-width="0.7"/>
<line x1="368.7" y1="143" x2="368.7" y2="144.5" stroke="#444" stroke-width="0.7"/>
<line x1="371.5" y1="143" x2="371.5" y2="144.5" stroke="#444" stroke-width="0.7"/>
<line x1="373.9" y1="143" x2="373.9" y2="144.5" stroke="#444" stroke-width="0.7"/>
<line x1="376" y1="143" x2="376" y2="144.5" stroke="#444" stroke-width="0.7"/>
<line x1="377.8" y1="143" x2="377.8" y2="144.5" stroke="#444" stroke-width="0.7"/>
<line x1="390.2" y1="143" x2="390.2" y2="144.5" stroke="#444" stroke-width="0.7"/>
<line x1="396.5" y1="143" x2="396.5" y2="144.5" stroke="#444" stroke-width="0.7"/>
<line x1="401" y1="143" x2="401" y2="144.5" stroke="#444" stroke-width="0.7"/>
<line x1="404.5" y1="143" x2="404.5" y2="144.5" stroke="#444" stroke-width="0.7"/>
<line x1="407.3" y1="143" x2="407.3" y2="144.5" stroke="#444" stroke-width="0.7"/>
<line x1="409.7" y1="143" x2="409.7" y2="144.5" stroke="#444" stroke-width="0.7"/>
<line x1="411.8" y1="143" x2="411.8" y2="144.5" stroke="#444" stroke-width="0.7"/>
<line x1="413.6" y1="143" x2="413.6" y2="144.5" stroke="#444" stroke-width="0.7"/>
<line x1="426" y1="143" x2="426" y2="144.5" stroke="#444" stroke-width="0.7"/>
<line x1="432.3" y1="143" x2="432.3" y2="144.5" stroke="#444" stroke-width="0.7"/>
<line x1="436.8" y1="143" x2="436.8" y2="144.5" stroke="#444" stroke-width="0.7"/>
<line x1="440.2" y1="143" x2="440.2" y2="144.5" stroke="#444" stroke-width="0.7"/>
<line x1="443.1" y1="143" x2="443.1" y2="144.5" stroke="#444" stroke-width="0.7"/>
<line x1="445.5" y1="143" x2="445.5" y2="144.5" stroke="#444" stroke-width="0.7"/>
<line x1="447.5" y1="143" x2="447.5" y2="144.5" stroke="#444" stroke-width="0.7"/>
<line x1="449.4" y1="143" x2="449.4" y2="144.5" stroke="#444" stroke-width="0.7"/>
<text class="lab" x="362.8" y="166">APC-A</text>
<text class="lab" transform="translate(284,76) rotate(-90)" text-anchor="middle">Count</text>
<text class="let" x="317" y="23.8">b</text>
<line x1="428.9" y1="9.9" x2="440.7" y2="9.9" stroke="#000000" stroke-width="2.7"/>
<text class="leg" x="442.4" y="13.5">D02</text>
<line x1="428.9" y1="21.2" x2="440.7" y2="21.2" stroke="#e01010" stroke-width="2.7"/>
<text class="leg" x="442.4" y="24.8">E15</text>
<line x1="428.9" y1="32.6" x2="440.7" y2="32.6" stroke="#8a18e0" stroke-width="2.7"/>
<text class="leg" x="442.4" y="36.2">H73</text>
<line x1="428.9" y1="43.9" x2="440.7" y2="43.9" stroke="#1a7a1a" stroke-width="2.7"/>
<text class="leg" x="442.4" y="47.5">I66</text>
<line x1="428.9" y1="55.3" x2="440.7" y2="55.3" stroke="#f5a030" stroke-width="2.7"/>
<text class="leg" x="442.4" y="58.9">K22</text>
<clipPath id="cc"><rect x="511.5" y="3.3" width="157.7" height="139.7"/></clipPath>
<g clip-path="url(#cc)" fill="none" stroke-width="0.75" stroke-linejoin="miter">
<polyline stroke="#404040" points="512.5,143 513.4,143 514.2,143 515.1,143 515.9,143 516.8,143 517.6,143 518.5,143 519.3,143 520.2,142.9 521,143 521.9,143 522.7,143 523.6,142.9 524.4,142.8 525.3,143 526.1,143 527,143 527.8,143 528.7,142.7 529.5,143 530.4,142 531.2,143 532.1,141.8 532.9,141.8 533.8,142.3 534.6,141.1 535.5,142.5 536.3,140.6 537.2,139.7 538,140.2 538.9,138.4 539.7,136.1 540.6,140.3 541.4,136.3 542.3,127.8 543.1,134.8 544,127.6 544.8,131.2 545.7,130.2 546.5,111.4 547.4,119.7 548.2,108.2 549.1,104.1 549.9,107.7 550.8,107.4 551.6,81.9 552.5,81.8 553.3,75.9 554.2,68.5 555,57.1 555.9,71.9 556.7,47.2 557.6,49 558.4,46.6 559.3,51.7 560.1,55.5 561,1 561.8,31.8 562.7,38.9 563.5,25.5 564.4,28.5 565.2,50.8 566.1,44.8 566.9,39 567.8,53.8 568.6,46.2 569.5,48.2 570.3,42.1 571.2,48.3 572,45.5 572.9,53.8 573.7,65 574.6,71.4 575.4,79.9 576.3,91.1 577.1,63.6 578,84.8 578.8,84.1 579.7,103.5 580.5,104.7 581.4,113.1 582.2,104.8 583.1,116.3 583.9,114.5 584.8,107.1 585.6,120.3 586.5,122.7 587.3,129.8 588.2,123 589,133.1 589.9,129.6 590.7,132.8 591.6,137 592.4,126.1 593.3,136.7 594.1,136.2 595,138.5 595.8,134.4 596.7,139.5 597.5,140.3 598.4,139.3 599.2,140.7 600.1,141.8 600.9,139.8 601.8,143 602.6,143 603.5,140.7 604.3,143 605.2,142.3 606,142.2 606.9,142.7 607.7,142.9 608.6,142.8 609.4,142.6 610.3,142.8 611.1,142.7 612,142.7 612.8,143 613.7,142.5 614.5,143 615.4,143 616.2,142.6 617.1,143 617.9,142.9 618.8,143 619.6,143 620.5,142.9 621.3,143 622.2,143 623,143 623.9,142.9 624.7,143 625.6,143 626.4,143 627.3,143 628.1,143 629,143 629.8,143 630.7,143 631.5,143 632.4,143 633.2,143 634.1,143 634.9,143 635.8,143 636.6,143 637.5,143 638.3,143 639.2,143 640,143 640.9,143 641.7,143 642.6,143 643.4,143 644.3,143 645.1,143 646,143 646.8,143 647.7,143 648.5,143 649.4,143 650.2,143 651.1,143 651.9,143 652.8,143 653.6,143 654.5,143 655.3,143 656.2,143 657,143 657.9,143 658.7,143 659.6,143 660.4,143 661.3,143 662.1,143 663,143 663.8,143 664.7,143 665.5,143 666.4,143 667.2,143 668.1,143 668.9,143"/>
<polyline stroke="#f04848" points="512.5,143 513.4,143 514.2,143 515.1,143 515.9,143 516.8,143 517.6,142.9 518.5,143 519.3,143 520.2,142.9 521,143 521.9,142.9 522.7,143 523.6,142.9 524.4,143 525.3,142.8 526.1,142.9 527,143 527.8,143 528.7,142.5 529.5,142.3 530.4,143 531.2,143 532.1,142.6 532.9,142.8 533.8,143 534.6,140.7 535.5,141 536.3,140.4 537.2,139.7 538,143 538.9,140.2 539.7,137.8 540.6,138.6 541.4,140.4 542.3,138.5 543.1,134.7 544,132.3 544.8,136 545.7,133.9 546.5,132.6 547.4,133.4 548.2,128.6 549.1,124.3 549.9,129.6 550.8,122.1 551.6,110.5 552.5,130.1 553.3,106.2 554.2,104.3 555,106.5 555.9,110.8 556.7,98.4 557.6,94.4 558.4,94.7 559.3,78.2 560.1,96.7 561,78.2 561.8,87.1 562.7,77.3 563.5,78 564.4,75.8 565.2,83.8 566.1,70.2 566.9,79.1 567.8,67.2 568.6,73.1 569.5,73.3 570.3,76.6 571.2,67 572,70.1 572.9,73.2 573.7,70.6 574.6,80.2 575.4,81.3 576.3,79.6 577.1,80.5 578,69.4 578.8,75.7 579.7,74.9 580.5,79.5 581.4,71.2 582.2,73.3 583.1,68.5 583.9,66.8 584.8,77.4 585.6,65.5 586.5,76 587.3,73.4 588.2,68.3 589,80.5 589.9,80.6 590.7,63.2 591.6,79.2 592.4,82.4 593.3,85.9 594.1,88.6 595,93.6 595.8,97.6 596.7,100.4 597.5,110.9 598.4,99.3 599.2,101.6 600.1,111.5 600.9,110.5 601.8,122.2 602.6,132.7 603.5,121.2 604.3,129.6 605.2,121.5 606,128.7 606.9,135.5 607.7,133.1 608.6,137 609.4,135.2 610.3,138.7 611.1,140.3 612,141.2 612.8,143 613.7,139.6 614.5,141.9 615.4,141.5 616.2,141.8 617.1,142.2 617.9,142 618.8,142.1 619.6,142.8 620.5,142.5 621.3,143 622.2,143 623,142.9 623.9,142.6 624.7,142.9 625.6,142.8 626.4,143 627.3,143 628.1,143 629,143 629.8,142.9 630.7,143 631.5,143 632.4,143 633.2,143 634.1,143 634.9,143 635.8,143 636.6,143 637.5,143 638.3,143 639.2,143 640,143 640.9,143 641.7,143 642.6,143 643.4,143 644.3,143 645.1,143 646,143 646.8,143 647.7,143 648.5,143 649.4,143 650.2,143 651.1,143 651.9,143 652.8,143 653.6,143 654.5,143 655.3,143 656.2,143 657,143 657.9,143 658.7,143 659.6,143 660.4,143 661.3,143 662.1,143 663,143 663.8,143 664.7,143 665.5,143 666.4,143 667.2,143 668.1,143 668.9,143"/>
<polyline stroke="#9a30d8" points="512.5,143 513.4,143 514.2,143 515.1,143 515.9,142.9 516.8,143 517.6,143 518.5,142.9 519.3,143 520.2,143 521,142.9 521.9,143 522.7,143 523.6,143 524.4,142.8 525.3,142.8 526.1,142.9 527,142.9 527.8,143 528.7,143 529.5,142.7 530.4,142.9 531.2,142.7 532.1,143 532.9,142.5 533.8,143 534.6,142.9 535.5,143 536.3,141.3 537.2,141.2 538,142.3 538.9,143 539.7,138.2 540.6,136.2 541.4,139.3 542.3,135.6 543.1,137 544,138.1 544.8,130 545.7,135.9 546.5,128.9 547.4,122.6 548.2,130.4 549.1,122.3 549.9,115 550.8,117.9 551.6,120.3 552.5,114.7 553.3,99.7 554.2,118.3 555,101.8 555.9,91.1 556.7,96.9 557.6,88 558.4,68 559.3,67.1 560.1,72.7 561,50 561.8,64.6 562.7,58.4 563.5,60.3 564.4,63.3 565.2,49.9 566.1,41.7 566.9,44.4 567.8,30.7 568.6,33.7 569.5,58.3 570.3,38.4 571.2,56.4 572,30.4 572.9,36.6 573.7,43.3 574.6,34.9 575.4,50.2 576.3,52.3 577.1,45.3 578,74.1 578.8,71.2 579.7,68.4 580.5,85.6 581.4,76.8 582.2,77.8 583.1,83.5 583.9,91.8 584.8,93.8 585.6,105.3 586.5,102.3 587.3,109.9 588.2,129.2 589,108.9 589.9,113 590.7,126.1 591.6,124.4 592.4,132.6 593.3,126.2 594.1,129.1 595,133.6 595.8,130 596.7,134.6 597.5,138.8 598.4,140.1 599.2,141.3 600.1,139.6 600.9,138.5 601.8,139.8 602.6,141.5 603.5,143 604.3,141.6 605.2,142.7 606,142.1 606.9,141.6 607.7,141.7 608.6,142.4 609.4,143 610.3,143 611.1,142.7 612,143 612.8,143 613.7,143 614.5,143 615.4,143 616.2,143 617.1,142.9 617.9,142.9 618.8,143 619.6,143 620.5,143 621.3,142.9 622.2,143 623,142.9 623.9,143 624.7,143 625.6,143 626.4,143 627.3,143 628.1,143 629,143 629.8,143 630.7,143 631.5,143 632.4,143 633.2,143 634.1,143 634.9,143 635.8,143 636.6,143 637.5,143 638.3,143 639.2,143 640,143 640.9,143 641.7,143 642.6,143 643.4,143 644.3,143 645.1,143 646,143 646.8,143 647.7,143 648.5,143 649.4,143 650.2,143 651.1,143 651.9,143 652.8,143 653.6,143 654.5,143 655.3,143 656.2,143 657,143 657.9,143 658.7,143 659.6,143 660.4,143 661.3,143 662.1,143 663,143 663.8,143 664.7,143 665.5,143 666.4,143 667.2,143 668.1,143 668.9,143"/>
<polyline stroke="#f5a040" points="512.5,143 513.4,143 514.2,142.9 515.1,143 515.9,143 516.8,142.9 517.6,142.9 518.5,142.9 519.3,143 520.2,142.8 521,143 521.9,142.9 522.7,142.8 523.6,143 524.4,142.8 525.3,143 526.1,143 527,143 527.8,142.3 528.7,142.7 529.5,142.3 530.4,143 531.2,141.7 532.1,143 532.9,142.7 533.8,138.9 534.6,140.5 535.5,140.7 536.3,141.8 537.2,142.3 538,139.7 538.9,136.7 539.7,136.2 540.6,135.1 541.4,136.6 542.3,133.4 543.1,131.4 544,129.1 544.8,133.6 545.7,112.8 546.5,118.9 547.4,118.7 548.2,117.3 549.1,112.2 549.9,111.6 550.8,100.3 551.6,103 552.5,95 553.3,82.5 554.2,76.7 555,87.8 555.9,81.4 556.7,79.6 557.6,59.2 558.4,54.4 559.3,59.7 560.1,49.8 561,64.9 561.8,43.9 562.7,45.1 563.5,35.9 564.4,41.9 565.2,57.6 566.1,40 566.9,38.2 567.8,43.3 568.6,37.3 569.5,58 570.3,49.4 571.2,61.6 572,59 572.9,53.4 573.7,53 574.6,58.7 575.4,47 576.3,73 577.1,70.5 578,91.5 578.8,85.3 579.7,80.3 580.5,94.8 581.4,89.6 582.2,110.6 583.1,90.4 583.9,92.9 584.8,101.9 585.6,106.8 586.5,109.3 587.3,108 588.2,115.7 589,109.6 589.9,116.4 590.7,129.8 591.6,124 592.4,117.1 593.3,128.7 594.1,125.6 595,131.5 595.8,130.7 596.7,135.6 597.5,134.3 598.4,133.7 599.2,135.7 600.1,137.6 600.9,138.7 601.8,139.1 602.6,139.7 603.5,141 604.3,141 605.2,141.4 606,140.9 606.9,141.7 607.7,142.5 608.6,141 609.4,143 610.3,142 611.1,141.7 612,142.9 612.8,142.6 613.7,142.3 614.5,142.6 615.4,143 616.2,143 617.1,142.5 617.9,142.3 618.8,143 619.6,142.7 620.5,142.8 621.3,143 622.2,143 623,142.8 623.9,142.8 624.7,143 625.6,142.9 626.4,143 627.3,143 628.1,142.9 629,142.9 629.8,143 630.7,143 631.5,143 632.4,143 633.2,143 634.1,143 634.9,143 635.8,143 636.6,143 637.5,143 638.3,143 639.2,143 640,143 640.9,143 641.7,143 642.6,143 643.4,143 644.3,143 645.1,143 646,143 646.8,143 647.7,143 648.5,143 649.4,143 650.2,143 651.1,143 651.9,143 652.8,143 653.6,143 654.5,143 655.3,143 656.2,143 657,143 657.9,143 658.7,143 659.6,143 660.4,143 661.3,143 662.1,143 663,143 663.8,143 664.7,143 665.5,143 666.4,143 667.2,143 668.1,143 668.9,143"/>
</g>
<rect x="511.5" y="3.3" width="157.7" height="139.7" fill="none" stroke="#555" stroke-width="1.3"/>
<line x1="508.5" y1="143" x2="511.5" y2="143" stroke="#444" stroke-width="1"/>
<text class="t" x="508.5" y="147.4" text-anchor="end">0</text>
<line x1="508.5" y1="108.2" x2="511.5" y2="108.2" stroke="#444" stroke-width="1"/>
<text class="t" x="508.5" y="112.6" text-anchor="end">36</text>
<line x1="508.5" y1="72.5" x2="511.5" y2="72.5" stroke="#444" stroke-width="1"/>
<text class="t" x="508.5" y="76.9" text-anchor="end">73</text>
<line x1="508.5" y1="37.8" x2="511.5" y2="37.8" stroke="#444" stroke-width="1"/>
<text class="t" x="508.5" y="42.2" text-anchor="end">109</text>
<line x1="508.5" y1="3" x2="511.5" y2="3" stroke="#444" stroke-width="1"/>
<text class="t" x="508.5" y="8.2" text-anchor="end">145</text>
<line x1="510" y1="134.2" x2="511.5" y2="134.2" stroke="#444" stroke-width="0.8"/>
<line x1="510" y1="125.5" x2="511.5" y2="125.5" stroke="#444" stroke-width="0.8"/>
<line x1="510" y1="116.8" x2="511.5" y2="116.8" stroke="#444" stroke-width="0.8"/>
<line x1="510" y1="99.2" x2="511.5" y2="99.2" stroke="#444" stroke-width="0.8"/>
<line x1="510" y1="90.5" x2="511.5" y2="90.5" stroke="#444" stroke-width="0.8"/>
<line x1="510" y1="81.8" x2="511.5" y2="81.8" stroke="#444" stroke-width="0.8"/>
<line x1="510" y1="64.2" x2="511.5" y2="64.2" stroke="#444" stroke-width="0.8"/>
<line x1="510" y1="55.5" x2="511.5" y2="55.5" stroke="#444" stroke-width="0.8"/>
<line x1="510" y1="46.8" x2="511.5" y2="46.8" stroke="#444" stroke-width="0.8"/>
<line x1="510" y1="29.2" x2="511.5" y2="29.2" stroke="#444" stroke-width="0.8"/>
<line x1="510" y1="20.5" x2="511.5" y2="20.5" stroke="#444" stroke-width="0.8"/>
<line x1="510" y1="11.8" x2="511.5" y2="11.8" stroke="#444" stroke-width="0.8"/>
<text class="t" x="543.7" y="154.3">10<tspan dy="-2.6" font-size="7.6px">2</tspan></text>
<line x1="550.7" y1="143" x2="550.7" y2="145.5" stroke="#444" stroke-width="1"/>
<text class="t" x="578.7" y="154.3">10<tspan dy="-2.6" font-size="7.6px">3</tspan></text>
<line x1="585.7" y1="143" x2="585.7" y2="145.5" stroke="#444" stroke-width="1"/>
<text class="t" x="615.2" y="154.3">10<tspan dy="-2.6" font-size="7.6px">4</tspan></text>
<line x1="622.2" y1="143" x2="622.2" y2="145.5" stroke="#444" stroke-width="1"/>
<text class="t" x="650.1" y="154.3">10<tspan dy="-2.6" font-size="7.6px">5</tspan></text>
<line x1="657.1" y1="143" x2="657.1" y2="145.5" stroke="#444" stroke-width="1"/>
<line x1="525.9" y1="143" x2="525.9" y2="144.5" stroke="#444" stroke-width="0.7"/>
<line x1="532.2" y1="143" x2="532.2" y2="144.5" stroke="#444" stroke-width="0.7"/>
<line x1="536.6" y1="143" x2="536.6" y2="144.5" stroke="#444" stroke-width="0.7"/>
<line x1="540" y1="143" x2="540" y2="144.5" stroke="#444" stroke-width="0.7"/>
<line x1="542.8" y1="143" x2="542.8" y2="144.5" stroke="#444" stroke-width="0.7"/>
<line x1="545.2" y1="143" x2="545.2" y2="144.5" stroke="#444" stroke-width="0.7"/>
<line x1="547.3" y1="143" x2="547.3" y2="144.5" stroke="#444" stroke-width="0.7"/>
<line x1="549.1" y1="143" x2="549.1" y2="144.5" stroke="#444" stroke-width="0.7"/>
<line x1="561.4" y1="143" x2="561.4" y2="144.5" stroke="#444" stroke-width="0.7"/>
<line x1="567.6" y1="143" x2="567.6" y2="144.5" stroke="#444" stroke-width="0.7"/>
<line x1="572.1" y1="143" x2="572.1" y2="144.5" stroke="#444" stroke-width="0.7"/>
<line x1="575.5" y1="143" x2="575.5" y2="144.5" stroke="#444" stroke-width="0.7"/>
<line x1="578.3" y1="143" x2="578.3" y2="144.5" stroke="#444" stroke-width="0.7"/>
<line x1="580.7" y1="143" x2="580.7" y2="144.5" stroke="#444" stroke-width="0.7"/>
<line x1="582.7" y1="143" x2="582.7" y2="144.5" stroke="#444" stroke-width="0.7"/>
<line x1="584.5" y1="143" x2="584.5" y2="144.5" stroke="#444" stroke-width="0.7"/>
<line x1="596.8" y1="143" x2="596.8" y2="144.5" stroke="#444" stroke-width="0.7"/>
<line x1="603.1" y1="143" x2="603.1" y2="144.5" stroke="#444" stroke-width="0.7"/>
<line x1="607.5" y1="143" x2="607.5" y2="144.5" stroke="#444" stroke-width="0.7"/>
<line x1="611" y1="143" x2="611" y2="144.5" stroke="#444" stroke-width="0.7"/>
<line x1="613.8" y1="143" x2="613.8" y2="144.5" stroke="#444" stroke-width="0.7"/>
<line x1="616.1" y1="143" x2="616.1" y2="144.5" stroke="#444" stroke-width="0.7"/>
<line x1="618.2" y1="143" x2="618.2" y2="144.5" stroke="#444" stroke-width="0.7"/>
<line x1="620" y1="143" x2="620" y2="144.5" stroke="#444" stroke-width="0.7"/>
<line x1="632.3" y1="143" x2="632.3" y2="144.5" stroke="#444" stroke-width="0.7"/>
<line x1="638.6" y1="143" x2="638.6" y2="144.5" stroke="#444" stroke-width="0.7"/>
<line x1="643" y1="143" x2="643" y2="144.5" stroke="#444" stroke-width="0.7"/>
<line x1="646.4" y1="143" x2="646.4" y2="144.5" stroke="#444" stroke-width="0.7"/>
<line x1="649.2" y1="143" x2="649.2" y2="144.5" stroke="#444" stroke-width="0.7"/>
<line x1="651.6" y1="143" x2="651.6" y2="144.5" stroke="#444" stroke-width="0.7"/>
<line x1="653.7" y1="143" x2="653.7" y2="144.5" stroke="#444" stroke-width="0.7"/>
<line x1="655.5" y1="143" x2="655.5" y2="144.5" stroke="#444" stroke-width="0.7"/>
<text class="lab" x="575.9" y="166.3">APC-A</text>
<text class="lab" transform="translate(489,76) rotate(-90)" text-anchor="middle">Count</text>
<text class="let" x="519.8" y="23.8">c</text>
<line x1="635.7" y1="9.2" x2="647.5" y2="9.2" stroke="#000000" stroke-width="2.7"/>
<text class="leg" x="648.5" y="12.8">D02</text>
<line x1="635.7" y1="20.5" x2="647.5" y2="20.5" stroke="#e01010" stroke-width="2.7"/>
<text class="leg" x="648.5" y="24.1">E15</text>
<line x1="635.7" y1="31.7" x2="647.5" y2="31.7" stroke="#8a18e0" stroke-width="2.7"/>
<text class="leg" x="648.5" y="35.3">H73</text>
<line x1="635.7" y1="43" x2="647.5" y2="43" stroke="#f5a030" stroke-width="2.7"/>
<text class="leg" x="648.5" y="46.6">K22</text>
<clipPath id="cd"><rect x="23" y="188.3" width="159.5" height="140.2"/></clipPath>
<g clip-path="url(#cd)" fill="none" stroke-width="0.75" stroke-linejoin="miter">
<polyline stroke="#404040" points="24,328.5 24.9,328.5 25.7,328.5 26.6,328.5 27.4,328.5 28.3,328.5 29.1,328.5 30,328.5 30.8,328.5 31.7,328.5 32.5,328.5 33.4,328.5 34.2,328.5 35.1,328.5 35.9,328.5 36.8,328.5 37.6,328.5 38.5,328.5 39.3,328.5 40.2,328.5 41,328.5 41.9,328.5 42.7,328.5 43.6,328.5 44.4,328.5 45.3,328.5 46.1,328.5 47,328.5 47.8,328.5 48.7,328.5 49.5,328.5 50.4,328.5 51.2,328.5 52.1,328.5 52.9,328.5 53.8,328.5 54.6,328.5 55.5,328.5 56.3,328.2 57.2,328.5 58,328.3 58.9,328.5 59.7,326.8 60.6,327.1 61.4,327.5 62.3,327 63.1,325.9 64,327.9 64.8,326.3 65.7,327.7 66.5,326.5 67.4,324.3 68.2,324.6 69.1,325.6 69.9,327.4 70.8,322.5 71.6,320.4 72.5,314.1 73.3,304.1 74.2,313.1 75,296.5 75.8,281.4 76.7,293.4 77.5,288.3 78.4,262.6 79.2,249.9 80.1,242.3 80.9,239.7 81.8,219.8 82.6,231.3 83.5,221.2 84.3,200.6 85.2,186.5 86,222.5 86.9,204.5 87.7,207.7 88.6,220.8 89.4,214.7 90.3,221.8 91.1,245.1 92,266.5 92.8,251 93.7,261.1 94.5,280.1 95.4,273.6 96.2,279.5 97.1,287.1 97.9,287.5 98.8,302 99.6,300.2 100.5,303.5 101.3,305.2 102.2,302.1 103,308.2 103.9,315.1 104.7,311.7 105.6,319 106.4,317 107.3,319 108.1,322.5 109,324.2 109.8,324.4 110.7,321.8 111.5,326.9 112.4,326.1 113.2,327.1 114.1,325.6 114.9,327 115.8,328.5 116.6,327.1 117.5,327.6 118.3,326.8 119.2,327.7 120,326.7 120.9,326.6 121.7,328.5 122.6,326.9 123.4,328.5 124.3,328.2 125.1,328.5 126,328.5 126.8,328.5 127.7,328.5 128.5,328.5 129.4,328.5 130.2,328.5 131.1,328.5 131.9,328.5 132.8,328.5 133.6,328.5 134.5,328.5 135.3,328.5 136.2,328.5 137,328.5 137.9,328.5 138.7,328.5 139.6,328.5 140.4,328.5 141.3,328.5 142.1,328.5 143,328.5 143.8,328.5 144.7,328.5 145.5,328.5 146.4,328.5 147.2,328.5 148.1,328.5 148.9,328.5 149.8,328.5 150.6,328.5 151.5,328.5 152.3,328.5 153.2,328.5 154,328.5 154.9,328.5 155.7,328.5 156.6,328.5 157.4,328.5 158.3,328.5 159.1,328.5 160,328.5 160.8,328.5 161.7,328.5 162.5,328.5 163.4,328.5 164.2,328.5 165.1,328.5 165.9,328.5 166.8,328.5 167.6,328.5 168.5,328.5 169.3,328.5 170.2,328.5 171,328.5 171.9,328.5 172.7,328.5 173.6,328.5 174.4,328.5 175.3,328.5 176.1,328.5 177,328.5 177.8,328.5 178.7,328.5 179.5,328.5 180.4,328.5 181.2,328.5 182.1,328.5"/>
<polyline stroke="#f04848" points="24,328.5 24.9,328.5 25.7,328.5 26.6,328.5 27.4,328.5 28.3,328.5 29.1,328.5 30,328.5 30.8,328.5 31.7,328.5 32.5,328.5 33.4,328.5 34.2,328.5 35.1,328.5 35.9,328.5 36.8,328.5 37.6,328.5 38.5,328.5 39.3,328.5 40.2,328.5 41,328.5 41.9,328.5 42.7,328.5 43.6,328.5 44.4,328.5 45.3,328.5 46.1,328.5 47,328.5 47.8,328.5 48.7,328.5 49.5,328.5 50.4,328.5 51.2,328.5 52.1,328.5 52.9,328.5 53.8,328.5 54.6,328.5 55.5,328.4 56.3,328.5 57.2,328.5 58,328 58.9,328.4 59.7,328.1 60.6,327.6 61.4,327 62.3,325.8 63.1,327 64,328.5 64.8,326.1 65.7,327.6 66.5,328.4 67.4,328.5 68.2,326.5 69.1,328.5 69.9,324.5 70.8,320.5 71.6,326.8 72.5,326.3 73.3,322.5 74.2,316.1 75,313.7 75.8,311.1 76.7,312.9 77.5,304.1 78.4,308.8 79.2,287.8 80.1,298.3 80.9,297.4 81.8,289.2 82.6,285.1 83.5,279.3 84.3,289.4 85.2,299.5 86,286.3 86.9,293.4 87.7,291.5 88.6,292.1 89.4,280.8 90.3,282.8 91.1,294.3 92,296.9 92.8,281.8 93.7,275.8 94.5,249.6 95.4,262.2 96.2,277.1 97.1,251.2 97.9,250 98.8,269.7 99.6,262.3 100.5,251.4 101.3,249.9 102.2,265.1 103,265.8 103.9,259.8 104.7,248.5 105.6,254.7 106.4,271.2 107.3,255.8 108.1,261.5 109,269.1 109.8,246.5 110.7,251.3 111.5,269.6 112.4,261.1 113.2,280.4 114.1,252.6 114.9,269.2 115.8,284.4 116.6,282.7 117.5,291 118.3,280.9 119.2,287.7 120,279.7 120.9,282.7 121.7,282.8 122.6,293.1 123.4,317.5 124.3,302 125.1,296.1 126,313.2 126.8,310.5 127.7,316.1 128.5,314.7 129.4,308.3 130.2,306.8 131.1,309.8 131.9,316.5 132.8,309.3 133.6,312.3 134.5,323.3 135.3,322.6 136.2,328.5 137,317.7 137.9,324.7 138.7,324.1 139.6,323.2 140.4,323.7 141.3,322.7 142.1,326.4 143,328.5 143.8,328.5 144.7,323.1 145.5,328.5 146.4,326.1 147.2,326.1 148.1,327 148.9,326.2 149.8,327.8 150.6,328.5 151.5,328.5 152.3,326 153.2,326.4 154,328.5 154.9,328.3 155.7,326.4 156.6,328.5 157.4,327.6 158.3,327.2 159.1,327.3 160,328.5 160.8,326.8 161.7,328.4 162.5,328.5 163.4,327.7 164.2,328.5 165.1,328.5 165.9,328.5 166.8,328.5 167.6,328.5 168.5,328.5 169.3,328.5 170.2,328.5 171,328.5 171.9,328.5 172.7,328.5 173.6,328.5 174.4,328.5 175.3,328.5 176.1,328.5 177,328.5 177.8,328.5 178.7,328.5 179.5,328.5 180.4,328.5 181.2,328.5 182.1,328.5"/>
</g>
<rect x="23" y="188.3" width="159.5" height="140.2" fill="none" stroke="#555" stroke-width="1.3"/>
<line x1="20" y1="328.5" x2="23" y2="328.5" stroke="#444" stroke-width="1"/>
<text class="t" x="20.2" y="332.4" text-anchor="end" font-size="9.4px">0</text>
<line x1="20" y1="293.5" x2="23" y2="293.5" stroke="#444" stroke-width="1"/>
<text class="t" x="20.2" y="297.4" text-anchor="end" font-size="9.4px">19</text>
<line x1="20" y1="258.5" x2="23" y2="258.5" stroke="#444" stroke-width="1"/>
<text class="t" x="20.2" y="262.4" text-anchor="end" font-size="9.4px">38</text>
<line x1="20" y1="223.5" x2="23" y2="223.5" stroke="#444" stroke-width="1"/>
<text class="t" x="20.2" y="227.4" text-anchor="end" font-size="9.4px">57</text>
<line x1="20" y1="188.5" x2="23" y2="188.5" stroke="#444" stroke-width="1"/>
<text class="t" x="20.2" y="192.4" text-anchor="end" font-size="9.4px">76</text>
<line x1="21.5" y1="319.8" x2="23" y2="319.8" stroke="#444" stroke-width="0.8"/>
<line x1="21.5" y1="311" x2="23" y2="311" stroke="#444" stroke-width="0.8"/>
<line x1="21.5" y1="302.2" x2="23" y2="302.2" stroke="#444" stroke-width="0.8"/>
<line x1="21.5" y1="284.8" x2="23" y2="284.8" stroke="#444" stroke-width="0.8"/>
<line x1="21.5" y1="276" x2="23" y2="276" stroke="#444" stroke-width="0.8"/>
<line x1="21.5" y1="267.2" x2="23" y2="267.2" stroke="#444" stroke-width="0.8"/>
<line x1="21.5" y1="249.8" x2="23" y2="249.8" stroke="#444" stroke-width="0.8"/>
<line x1="21.5" y1="241" x2="23" y2="241" stroke="#444" stroke-width="0.8"/>
<line x1="21.5" y1="232.2" x2="23" y2="232.2" stroke="#444" stroke-width="0.8"/>
<line x1="21.5" y1="214.8" x2="23" y2="214.8" stroke="#444" stroke-width="0.8"/>
<line x1="21.5" y1="206" x2="23" y2="206" stroke="#444" stroke-width="0.8"/>
<line x1="21.5" y1="197.2" x2="23" y2="197.2" stroke="#444" stroke-width="0.8"/>
<text class="t" x="53.4" y="338.4">10<tspan dy="-2.6" font-size="7.6px">2</tspan></text>
<line x1="60.4" y1="328.5" x2="60.4" y2="331" stroke="#444" stroke-width="1"/>
<text class="t" x="91.4" y="338.4">10<tspan dy="-2.6" font-size="7.6px">3</tspan></text>
<line x1="98.4" y1="328.5" x2="98.4" y2="331" stroke="#444" stroke-width="1"/>
<text class="t" x="127.5" y="338.4">10<tspan dy="-2.6" font-size="7.6px">4</tspan></text>
<line x1="134.5" y1="328.5" x2="134.5" y2="331" stroke="#444" stroke-width="1"/>
<text class="t" x="161.5" y="338.4">10<tspan dy="-2.6" font-size="7.6px">5</tspan></text>
<line x1="168.5" y1="328.5" x2="168.5" y2="331" stroke="#444" stroke-width="1"/>
<line x1="35.2" y1="328.5" x2="35.2" y2="330" stroke="#444" stroke-width="0.7"/>
<line x1="41.6" y1="328.5" x2="41.6" y2="330" stroke="#444" stroke-width="0.7"/>
<line x1="46.1" y1="328.5" x2="46.1" y2="330" stroke="#444" stroke-width="0.7"/>
<line x1="49.6" y1="328.5" x2="49.6" y2="330" stroke="#444" stroke-width="0.7"/>
<line x1="52.4" y1="328.5" x2="52.4" y2="330" stroke="#444" stroke-width="0.7"/>
<line x1="54.8" y1="328.5" x2="54.8" y2="330" stroke="#444" stroke-width="0.7"/>
<line x1="56.9" y1="328.5" x2="56.9" y2="330" stroke="#444" stroke-width="0.7"/>
<line x1="58.8" y1="328.5" x2="58.8" y2="330" stroke="#444" stroke-width="0.7"/>
<line x1="71.2" y1="328.5" x2="71.2" y2="330" stroke="#444" stroke-width="0.7"/>
<line x1="77.6" y1="328.5" x2="77.6" y2="330" stroke="#444" stroke-width="0.7"/>
<line x1="82.1" y1="328.5" x2="82.1" y2="330" stroke="#444" stroke-width="0.7"/>
<line x1="85.6" y1="328.5" x2="85.6" y2="330" stroke="#444" stroke-width="0.7"/>
<line x1="88.4" y1="328.5" x2="88.4" y2="330" stroke="#444" stroke-width="0.7"/>
<line x1="90.9" y1="328.5" x2="90.9" y2="330" stroke="#444" stroke-width="0.7"/>
<line x1="92.9" y1="328.5" x2="92.9" y2="330" stroke="#444" stroke-width="0.7"/>
<line x1="94.8" y1="328.5" x2="94.8" y2="330" stroke="#444" stroke-width="0.7"/>
<line x1="107.3" y1="328.5" x2="107.3" y2="330" stroke="#444" stroke-width="0.7"/>
<line x1="113.6" y1="328.5" x2="113.6" y2="330" stroke="#444" stroke-width="0.7"/>
<line x1="118.1" y1="328.5" x2="118.1" y2="330" stroke="#444" stroke-width="0.7"/>
<line x1="121.6" y1="328.5" x2="121.6" y2="330" stroke="#444" stroke-width="0.7"/>
<line x1="124.5" y1="328.5" x2="124.5" y2="330" stroke="#444" stroke-width="0.7"/>
<line x1="126.9" y1="328.5" x2="126.9" y2="330" stroke="#444" stroke-width="0.7"/>
<line x1="129" y1="328.5" x2="129" y2="330" stroke="#444" stroke-width="0.7"/>
<line x1="130.8" y1="328.5" x2="130.8" y2="330" stroke="#444" stroke-width="0.7"/>
<line x1="143.3" y1="328.5" x2="143.3" y2="330" stroke="#444" stroke-width="0.7"/>
<line x1="149.7" y1="328.5" x2="149.7" y2="330" stroke="#444" stroke-width="0.7"/>
<line x1="154.2" y1="328.5" x2="154.2" y2="330" stroke="#444" stroke-width="0.7"/>
<line x1="157.7" y1="328.5" x2="157.7" y2="330" stroke="#444" stroke-width="0.7"/>
<line x1="160.5" y1="328.5" x2="160.5" y2="330" stroke="#444" stroke-width="0.7"/>
<line x1="162.9" y1="328.5" x2="162.9" y2="330" stroke="#444" stroke-width="0.7"/>
<line x1="165" y1="328.5" x2="165" y2="330" stroke="#444" stroke-width="0.7"/>
<line x1="166.9" y1="328.5" x2="166.9" y2="330" stroke="#444" stroke-width="0.7"/>
<text class="lab" x="86.1" y="352.5">APC-A</text>
<text class="lab" transform="translate(8.7,260) rotate(-90)" text-anchor="middle">Count</text>
<text class="let" x="30.6" y="209">d</text>
<clipPath id="ce"><rect x="213" y="188.3" width="156.6" height="140.2"/></clipPath>
<g clip-path="url(#ce)" fill="none" stroke-width="0.75" stroke-linejoin="miter">
<polyline stroke="#404040" points="214,328.5 214.8,328.5 215.7,328.5 216.5,328.5 217.4,328.5 218.2,328.5 219.1,328.5 219.9,328.5 220.8,328.5 221.6,328.5 222.5,328.5 223.3,328.5 224.2,328.5 225,328.5 225.9,328.2 226.7,328.2 227.6,328.5 228.4,328.5 229.3,326.9 230.1,327.4 231,328.3 231.8,327.4 232.7,328.5 233.5,328.5 234.4,328.3 235.2,327.3 236.1,326.9 236.9,328.5 237.8,327.8 238.6,327.2 239.5,328.5 240.3,326.7 241.2,327.1 242,326.2 242.9,325 243.7,327.5 244.6,325.9 245.4,325.2 246.3,321.4 247.1,327.8 248,325.8 248.8,321.7 249.7,320.9 250.5,319.1 251.4,319 252.2,308.3 253.1,308 253.9,307.7 254.8,303.1 255.6,306.4 256.5,282 257.3,284.1 258.2,270.3 259,265.7 259.9,267 260.7,244.4 261.6,242.1 262.4,220.6 263.3,218.7 264.1,209.9 265,186.5 265.8,201.3 266.7,206.2 267.6,186.5 268.4,204.9 269.3,200.7 270.1,199.8 271,207.5 271.8,210.7 272.7,249.8 273.5,226.9 274.4,232.5 275.2,258.8 276.1,235.3 276.9,251.3 277.8,273.6 278.6,254.1 279.5,263.8 280.3,279.2 281.2,273 282,271.2 282.9,279.8 283.7,273.2 284.6,280.3 285.4,294.8 286.3,284 287.1,291.1 288,294.8 288.8,307.5 289.7,308.5 290.5,305.6 291.4,300.8 292.2,304.3 293.1,302.9 293.9,313.8 294.8,308.5 295.6,310.5 296.5,318.9 297.3,310.6 298.2,319.6 299,321.3 299.9,320.4 300.7,323.8 301.6,324.5 302.4,323.9 303.3,324.2 304.1,324.7 305,326.8 305.8,326.5 306.7,328.5 307.5,324.7 308.4,327.7 309.2,328 310.1,325.4 310.9,327.1 311.8,328.5 312.6,327.4 313.5,328 314.3,326.3 315.2,327.6 316,328.3 316.9,328.3 317.7,328.5 318.6,328.5 319.4,328.2 320.3,328.5 321.1,328.5 322,328.5 322.8,328.5 323.7,328.5 324.5,328.5 325.4,328.5 326.2,328.5 327.1,328.5 327.9,328.5 328.8,328.5 329.6,328.5 330.5,328.5 331.3,328.5 332.2,328.5 333,328.5 333.9,328.5 334.7,328.5 335.6,328.5 336.4,328.5 337.3,328.5 338.1,328.5 339,328.5 339.8,328.5 340.7,328.5 341.5,328.5 342.4,328.5 343.2,328.5 344.1,328.5 344.9,328.5 345.8,328.5 346.6,328.5 347.5,328.5 348.3,328.5 349.2,328.5 350,328.5 350.9,328.5 351.7,328.5 352.6,328.5 353.4,328.5 354.3,328.5 355.1,328.5 356,328.5 356.8,328.5 357.7,328.5 358.5,328.5 359.4,328.5 360.2,328.5 361.1,328.5 361.9,328.5 362.8,328.5 363.6,328.5 364.5,328.5 365.3,328.5 366.2,328.5 367,328.5 367.9,328.5 368.7,328.5 369.6,328.5"/>
<polyline stroke="#f04848" points="214,328.5 214.8,328.5 215.7,328.5 216.5,328.5 217.4,328.5 218.2,328.5 219.1,328.5 219.9,328.5 220.8,328.5 221.6,328.5 222.5,328.5 223.3,328.5 224.2,328.5 225,328.5 225.9,328.5 226.7,328.5 227.6,328.5 228.4,328.5 229.3,328.5 230.1,328.5 231,328.5 231.8,328.5 232.7,328.5 233.5,328.5 234.4,328.5 235.2,328.5 236.1,328.5 236.9,328.2 237.8,328.2 238.6,327.9 239.5,328.5 240.3,328.3 241.2,328.5 242,328.1 242.9,327.6 243.7,327.9 244.6,327.7 245.4,328.1 246.3,328.4 247.1,327.7 248,327.4 248.8,328.2 249.7,327.2 250.5,327 251.4,327.4 252.2,328.1 253.1,325.8 253.9,323.4 254.8,321.9 255.6,319.8 256.5,320.6 257.3,320.6 258.2,322.9 259,305.5 259.9,316.1 260.7,311.4 261.6,309.9 262.4,305.3 263.3,298.9 264.1,309.6 265,293.9 265.8,299.8 266.7,309.7 267.6,292.1 268.4,292.4 269.3,299.7 270.1,297.8 271,293.2 271.8,285.7 272.7,295.8 273.5,280 274.4,278.9 275.2,271.6 276.1,282.1 276.9,272.5 277.8,269.8 278.6,272.3 279.5,281.7 280.3,265.2 281.2,266.1 282,280.5 282.9,275.8 283.7,249.2 284.6,259.9 285.4,254.5 286.3,250.2 287.1,244.2 288,236.2 288.8,266.9 289.7,223.5 290.5,239.2 291.4,234.7 292.2,224.2 293.1,238.8 293.9,229.8 294.8,245.7 295.6,230.6 296.5,262.1 297.3,235.7 298.2,241.7 299,270 299.9,226.2 300.7,234.3 301.6,238.1 302.4,229.4 303.3,249.9 304.1,234.9 305,247.7 305.8,240.8 306.7,253.7 307.5,251.6 308.4,258.9 309.2,261.3 310.1,263.3 310.9,257.9 311.8,280 312.6,285 313.5,286.9 314.3,296.7 315.2,294 316,305.7 316.9,292.5 317.7,310.1 318.6,316.8 319.4,314.2 320.3,312.7 321.1,317.5 322,318.5 322.8,318.5 323.7,320.2 324.5,321.5 325.4,328 326.2,323.2 327.1,326.2 327.9,328 328.8,328.3 329.6,327 330.5,326.4 331.3,328.4 332.2,327.6 333,328.5 333.9,328.4 334.7,328.5 335.6,328.5 336.4,328.5 337.3,328.5 338.1,328.5 339,328.5 339.8,328.5 340.7,328.5 341.5,328.5 342.4,328.5 343.2,328.5 344.1,328.5 344.9,328.5 345.8,328.5 346.6,328.5 347.5,328.5 348.3,328.5 349.2,328.5 350,328.5 350.9,328.5 351.7,328.5 352.6,328.5 353.4,328.5 354.3,328.5 355.1,328.5 356,328.5 356.8,328.5 357.7,328.5 358.5,328.5 359.4,328.5 360.2,328.5 361.1,328.5 361.9,328.5 362.8,328.5 363.6,328.5 364.5,328.5 365.3,328.5 366.2,328.5 367,328.5 367.9,328.5 368.7,328.5 369.6,328.5"/>
</g>
<rect x="213" y="188.3" width="156.6" height="140.2" fill="none" stroke="#555" stroke-width="1.3"/>
<line x1="210" y1="328.5" x2="213" y2="328.5" stroke="#444" stroke-width="1"/>
<text class="t" x="210.2" y="332.4" text-anchor="end" font-size="9.4px">0</text>
<line x1="210" y1="293.5" x2="213" y2="293.5" stroke="#444" stroke-width="1"/>
<text class="t" x="210.2" y="297.4" text-anchor="end" font-size="9.4px">26</text>
<line x1="210" y1="258.5" x2="213" y2="258.5" stroke="#444" stroke-width="1"/>
<text class="t" x="210.2" y="262.4" text-anchor="end" font-size="9.4px">52</text>
<line x1="210" y1="223.5" x2="213" y2="223.5" stroke="#444" stroke-width="1"/>
<text class="t" x="210.2" y="227.4" text-anchor="end" font-size="9.4px">78</text>
<line x1="210" y1="188.5" x2="213" y2="188.5" stroke="#444" stroke-width="1"/>
<text class="t" x="210.2" y="192.4" text-anchor="end" font-size="9.4px">104</text>
<line x1="211.5" y1="319.8" x2="213" y2="319.8" stroke="#444" stroke-width="0.8"/>
<line x1="211.5" y1="311" x2="213" y2="311" stroke="#444" stroke-width="0.8"/>
<line x1="211.5" y1="302.2" x2="213" y2="302.2" stroke="#444" stroke-width="0.8"/>
<line x1="211.5" y1="284.8" x2="213" y2="284.8" stroke="#444" stroke-width="0.8"/>
<line x1="211.5" y1="276" x2="213" y2="276" stroke="#444" stroke-width="0.8"/>
<line x1="211.5" y1="267.2" x2="213" y2="267.2" stroke="#444" stroke-width="0.8"/>
<line x1="211.5" y1="249.8" x2="213" y2="249.8" stroke="#444" stroke-width="0.8"/>
<line x1="211.5" y1="241" x2="213" y2="241" stroke="#444" stroke-width="0.8"/>
<line x1="211.5" y1="232.2" x2="213" y2="232.2" stroke="#444" stroke-width="0.8"/>
<line x1="211.5" y1="214.8" x2="213" y2="214.8" stroke="#444" stroke-width="0.8"/>
<line x1="211.5" y1="206" x2="213" y2="206" stroke="#444" stroke-width="0.8"/>
<line x1="211.5" y1="197.2" x2="213" y2="197.2" stroke="#444" stroke-width="0.8"/>
<text class="t" x="245.3" y="338.4">10<tspan dy="-2.6" font-size="7.6px">2</tspan></text>
<line x1="252.3" y1="328.5" x2="252.3" y2="331" stroke="#444" stroke-width="1"/>
<text class="t" x="281.5" y="338.4">10<tspan dy="-2.6" font-size="7.6px">3</tspan></text>
<line x1="288.5" y1="328.5" x2="288.5" y2="331" stroke="#444" stroke-width="1"/>
<text class="t" x="316.5" y="338.4">10<tspan dy="-2.6" font-size="7.6px">4</tspan></text>
<line x1="323.5" y1="328.5" x2="323.5" y2="331" stroke="#444" stroke-width="1"/>
<text class="t" x="350.3" y="338.4">10<tspan dy="-2.6" font-size="7.6px">5</tspan></text>
<line x1="357.3" y1="328.5" x2="357.3" y2="331" stroke="#444" stroke-width="1"/>
<line x1="227.8" y1="328.5" x2="227.8" y2="330" stroke="#444" stroke-width="0.7"/>
<line x1="234" y1="328.5" x2="234" y2="330" stroke="#444" stroke-width="0.7"/>
<line x1="238.4" y1="328.5" x2="238.4" y2="330" stroke="#444" stroke-width="0.7"/>
<line x1="241.8" y1="328.5" x2="241.8" y2="330" stroke="#444" stroke-width="0.7"/>
<line x1="244.5" y1="328.5" x2="244.5" y2="330" stroke="#444" stroke-width="0.7"/>
<line x1="246.9" y1="328.5" x2="246.9" y2="330" stroke="#444" stroke-width="0.7"/>
<line x1="248.9" y1="328.5" x2="248.9" y2="330" stroke="#444" stroke-width="0.7"/>
<line x1="250.7" y1="328.5" x2="250.7" y2="330" stroke="#444" stroke-width="0.7"/>
<line x1="262.8" y1="328.5" x2="262.8" y2="330" stroke="#444" stroke-width="0.7"/>
<line x1="269" y1="328.5" x2="269" y2="330" stroke="#444" stroke-width="0.7"/>
<line x1="273.4" y1="328.5" x2="273.4" y2="330" stroke="#444" stroke-width="0.7"/>
<line x1="276.8" y1="328.5" x2="276.8" y2="330" stroke="#444" stroke-width="0.7"/>
<line x1="279.5" y1="328.5" x2="279.5" y2="330" stroke="#444" stroke-width="0.7"/>
<line x1="281.9" y1="328.5" x2="281.9" y2="330" stroke="#444" stroke-width="0.7"/>
<line x1="283.9" y1="328.5" x2="283.9" y2="330" stroke="#444" stroke-width="0.7"/>
<line x1="285.7" y1="328.5" x2="285.7" y2="330" stroke="#444" stroke-width="0.7"/>
<line x1="297.8" y1="328.5" x2="297.8" y2="330" stroke="#444" stroke-width="0.7"/>
<line x1="304" y1="328.5" x2="304" y2="330" stroke="#444" stroke-width="0.7"/>
<line x1="308.4" y1="328.5" x2="308.4" y2="330" stroke="#444" stroke-width="0.7"/>
<line x1="311.8" y1="328.5" x2="311.8" y2="330" stroke="#444" stroke-width="0.7"/>
<line x1="314.5" y1="328.5" x2="314.5" y2="330" stroke="#444" stroke-width="0.7"/>
<line x1="316.9" y1="328.5" x2="316.9" y2="330" stroke="#444" stroke-width="0.7"/>
<line x1="318.9" y1="328.5" x2="318.9" y2="330" stroke="#444" stroke-width="0.7"/>
<line x1="320.7" y1="328.5" x2="320.7" y2="330" stroke="#444" stroke-width="0.7"/>
<line x1="332.8" y1="328.5" x2="332.8" y2="330" stroke="#444" stroke-width="0.7"/>
<line x1="339" y1="328.5" x2="339" y2="330" stroke="#444" stroke-width="0.7"/>
<line x1="343.4" y1="328.5" x2="343.4" y2="330" stroke="#444" stroke-width="0.7"/>
<line x1="346.8" y1="328.5" x2="346.8" y2="330" stroke="#444" stroke-width="0.7"/>
<line x1="349.5" y1="328.5" x2="349.5" y2="330" stroke="#444" stroke-width="0.7"/>
<line x1="351.9" y1="328.5" x2="351.9" y2="330" stroke="#444" stroke-width="0.7"/>
<line x1="353.9" y1="328.5" x2="353.9" y2="330" stroke="#444" stroke-width="0.7"/>
<line x1="355.7" y1="328.5" x2="355.7" y2="330" stroke="#444" stroke-width="0.7"/>
<text class="lab" x="276.9" y="352.5">APC-A</text>
<text class="lab" transform="translate(195.2,260) rotate(-90)" text-anchor="middle">Count</text>
<text class="let" x="223.3" y="204.7">e</text>
<clipPath id="cf"><rect x="398.7" y="188.3" width="158.6" height="140.2"/></clipPath>
<g clip-path="url(#cf)" fill="none" stroke-width="0.75" stroke-linejoin="miter">
<polyline stroke="#404040" points="399.7,328.5 400.6,328.5 401.4,328.5 402.3,328.5 403.1,328.5 404,328.5 404.8,328.5 405.7,328 406.5,328.4 407.4,328.5 408.2,328.5 409.1,328.5 409.9,327.8 410.8,328.5 411.6,328.5 412.5,328.5 413.3,328.5 414.2,327.6 415,327.3 415.9,326.7 416.7,328.5 417.6,328.1 418.4,326.6 419.3,326.4 420.1,324.5 421,328.5 421.8,326.1 422.7,327.4 423.5,323.6 424.4,326.8 425.2,327.6 426.1,325.1 426.9,322.8 427.8,326.3 428.6,317.8 429.5,311.6 430.3,306.8 431.2,314.5 432,298.3 432.9,315.7 433.7,304.7 434.6,297.6 435.4,299.2 436.3,322 437.1,296.3 438,311.8 438.8,284.8 439.7,287.9 440.5,269.7 441.4,287.6 442.2,279.4 443.1,246.8 443.9,249.6 444.8,238.6 445.6,232.1 446.5,234.8 447.3,241.1 448.2,238.9 449,209.4 449.9,209.8 450.7,208.9 451.6,207.3 452.4,233.6 453.3,214 454.1,221 455,186.5 455.8,237.2 456.7,246.8 457.5,229.1 458.4,248.7 459.2,227.9 460.1,241 460.9,265.7 461.8,226.7 462.6,281.3 463.5,282.7 464.3,276.4 465.2,293.7 466,291.1 466.9,282.8 467.7,296 468.6,292.2 469.4,315.9 470.3,292.2 471.1,303.8 472,300.1 472.8,322.5 473.7,310.9 474.5,319.7 475.4,313.6 476.2,320 477.1,326.9 477.9,309.6 478.8,324.6 479.6,328.5 480.5,315.8 481.3,321.4 482.2,323.5 483,324.5 483.9,324.6 484.7,324.9 485.6,326.8 486.4,327.1 487.3,323.8 488.1,328.5 489,326.4 489.8,328.5 490.7,328.5 491.5,325.7 492.4,326.4 493.2,324.9 494.1,327.9 494.9,327.1 495.8,328.5 496.6,328.4 497.5,328.5 498.3,328.5 499.2,328.5 500,328.5 500.9,328.5 501.7,328.5 502.6,328.5 503.4,328.5 504.3,328.5 505.1,328.5 506,328.5 506.8,328.5 507.7,328.5 508.5,328.5 509.4,328.5 510.2,328.5 511.1,328.5 511.9,328.5 512.8,328.5 513.6,328.5 514.5,328.5 515.3,328.5 516.2,328.5 517,328.5 517.9,328.5 518.7,328.5 519.6,328.5 520.4,328.5 521.3,328.5 522.1,328.5 523,328.5 523.8,328.5 524.7,328.5 525.5,328.5 526.4,328.5 527.2,328.5 528.1,328.5 528.9,328.5 529.8,328.5 530.6,328.5 531.5,328.5 532.3,328.5 533.2,328.5 534,328.5 534.9,328.5 535.7,328.5 536.6,328.5 537.4,328.5 538.3,328.5 539.1,328.5 540,328.5 540.8,328.5 541.7,328.5 542.5,328.5 543.4,328.5 544.2,328.5 545.1,328.5 545.9,328.5 546.8,328.5 547.6,328.5 548.5,328.5 549.3,328.5 550.2,328.5 551,328.5 551.9,328.5 552.7,328.5 553.6,328.5 554.4,328.5 555.3,328.5 556.1,328.5 557,328.5"/>
<polyline stroke="#f04848" points="399.7,328.5 400.6,328.5 401.4,328.5 402.3,328.5 403.1,328.5 404,328.5 404.8,328.5 405.7,328.5 406.5,328.5 407.4,328.5 408.2,328.5 409.1,328.5 409.9,328.5 410.8,328.5 411.6,328.5 412.5,328.5 413.3,328.5 414.2,328.5 415,328.5 415.9,328.5 416.7,328.5 417.6,328.5 418.4,328.5 419.3,328.5 420.1,327.1 421,327.4 421.8,328.3 422.7,326.9 423.5,325.8 424.4,328.5 425.2,326.5 426.1,326.4 426.9,326.4 427.8,325 428.6,324.9 429.5,326.2 430.3,325.8 431.2,327.4 432,325.5 432.9,323.1 433.7,313.9 434.6,328 435.4,322.7 436.3,309.9 437.1,309.7 438,315.7 438.8,309.9 439.7,308.9 440.5,323.3 441.4,313.6 442.2,302.6 443.1,307.7 443.9,309.5 444.8,312.6 445.6,308.1 446.5,284.5 447.3,315 448.2,305.2 449,296.2 449.9,305 450.7,298.9 451.6,288.5 452.4,296.5 453.3,311.3 454.1,283.9 455,300.1 455.8,297.4 456.7,298.9 457.5,269.2 458.4,275.1 459.2,289.6 460.1,275.2 460.9,296.8 461.8,264.2 462.6,271.2 463.5,272.9 464.3,277 465.2,272.7 466,266.9 466.9,293.6 467.7,286 468.6,249.1 469.4,265.5 470.3,262.3 471.1,269.7 472,262.4 472.8,256.7 473.7,273.4 474.5,288.6 475.4,238.4 476.2,249.7 477.1,232.5 477.9,254 478.8,242.1 479.6,236.8 480.5,240.5 481.3,239 482.2,207.5 483,229.7 483.9,233.6 484.7,239.3 485.6,224.6 486.4,232.9 487.3,252.2 488.1,244.1 489,243.9 489.8,245.6 490.7,243.6 491.5,233.5 492.4,258.5 493.2,262.4 494.1,262.4 494.9,300.5 495.8,306.5 496.6,281.3 497.5,276.3 498.3,278.8 499.2,291.6 500,300.6 500.9,303.3 501.7,303.1 502.6,305.4 503.4,305.9 504.3,296.4 505.1,317.8 506,314.1 506.8,309.7 507.7,320.6 508.5,312.8 509.4,325.2 510.2,317.7 511.1,324.2 511.9,323 512.8,323.1 513.6,324.8 514.5,327.1 515.3,328 516.2,323 517,325.5 517.9,324.7 518.7,326 519.6,328.5 520.4,328.5 521.3,327.8 522.1,325.6 523,325.3 523.8,327.2 524.7,328.2 525.5,327.8 526.4,328.5 527.2,328.5 528.1,328.4 528.9,328.5 529.8,328.5 530.6,328.5 531.5,328.5 532.3,328.5 533.2,328.5 534,328.5 534.9,328.5 535.7,328.5 536.6,328.5 537.4,328.5 538.3,328.5 539.1,328.5 540,328.5 540.8,328.5 541.7,328.5 542.5,328.5 543.4,328.5 544.2,328.5 545.1,328.5 545.9,328.5 546.8,328.5 547.6,328.5 548.5,328.5 549.3,328.5 550.2,328.5 551,328.5 551.9,328.5 552.7,328.5 553.6,328.5 554.4,328.5 555.3,328.5 556.1,328.5 557,328.5"/>
</g>
<rect x="398.7" y="188.3" width="158.6" height="140.2" fill="none" stroke="#555" stroke-width="1.3"/>
<line x1="395.7" y1="328.5" x2="398.7" y2="328.5" stroke="#444" stroke-width="1"/>
<text class="t" x="395.9" y="332.4" text-anchor="end" font-size="9.4px">0</text>
<line x1="395.7" y1="293.5" x2="398.7" y2="293.5" stroke="#444" stroke-width="1"/>
<text class="t" x="395.9" y="297.4" text-anchor="end" font-size="9.4px">11</text>
<line x1="395.7" y1="258.5" x2="398.7" y2="258.5" stroke="#444" stroke-width="1"/>
<text class="t" x="395.9" y="262.4" text-anchor="end" font-size="9.4px">22</text>
<line x1="395.7" y1="223.5" x2="398.7" y2="223.5" stroke="#444" stroke-width="1"/>
<text class="t" x="395.9" y="227.4" text-anchor="end" font-size="9.4px">33</text>
<line x1="395.7" y1="188.5" x2="398.7" y2="188.5" stroke="#444" stroke-width="1"/>
<text class="t" x="395.9" y="192.4" text-anchor="end" font-size="9.4px">44</text>
<line x1="397.2" y1="319.8" x2="398.7" y2="319.8" stroke="#444" stroke-width="0.8"/>
<line x1="397.2" y1="311" x2="398.7" y2="311" stroke="#444" stroke-width="0.8"/>
<line x1="397.2" y1="302.2" x2="398.7" y2="302.2" stroke="#444" stroke-width="0.8"/>
<line x1="397.2" y1="284.8" x2="398.7" y2="284.8" stroke="#444" stroke-width="0.8"/>
<line x1="397.2" y1="276" x2="398.7" y2="276" stroke="#444" stroke-width="0.8"/>
<line x1="397.2" y1="267.2" x2="398.7" y2="267.2" stroke="#444" stroke-width="0.8"/>
<line x1="397.2" y1="249.8" x2="398.7" y2="249.8" stroke="#444" stroke-width="0.8"/>
<line x1="397.2" y1="241" x2="398.7" y2="241" stroke="#444" stroke-width="0.8"/>
<line x1="397.2" y1="232.2" x2="398.7" y2="232.2" stroke="#444" stroke-width="0.8"/>
<line x1="397.2" y1="214.8" x2="398.7" y2="214.8" stroke="#444" stroke-width="0.8"/>
<line x1="397.2" y1="206" x2="398.7" y2="206" stroke="#444" stroke-width="0.8"/>
<line x1="397.2" y1="197.2" x2="398.7" y2="197.2" stroke="#444" stroke-width="0.8"/>
<text class="t" x="427.9" y="338.4">10<tspan dy="-2.6" font-size="7.6px">2</tspan></text>
<line x1="434.9" y1="328.5" x2="434.9" y2="331" stroke="#444" stroke-width="1"/>
<text class="t" x="465.3" y="338.4">10<tspan dy="-2.6" font-size="7.6px">3</tspan></text>
<line x1="472.3" y1="328.5" x2="472.3" y2="331" stroke="#444" stroke-width="1"/>
<text class="t" x="501.5" y="338.4">10<tspan dy="-2.6" font-size="7.6px">4</tspan></text>
<line x1="508.5" y1="328.5" x2="508.5" y2="331" stroke="#444" stroke-width="1"/>
<text class="t" x="536.5" y="338.4">10<tspan dy="-2.6" font-size="7.6px">5</tspan></text>
<line x1="543.5" y1="328.5" x2="543.5" y2="331" stroke="#444" stroke-width="1"/>
<line x1="409.6" y1="328.5" x2="409.6" y2="330" stroke="#444" stroke-width="0.7"/>
<line x1="416" y1="328.5" x2="416" y2="330" stroke="#444" stroke-width="0.7"/>
<line x1="420.5" y1="328.5" x2="420.5" y2="330" stroke="#444" stroke-width="0.7"/>
<line x1="424" y1="328.5" x2="424" y2="330" stroke="#444" stroke-width="0.7"/>
<line x1="426.9" y1="328.5" x2="426.9" y2="330" stroke="#444" stroke-width="0.7"/>
<line x1="429.3" y1="328.5" x2="429.3" y2="330" stroke="#444" stroke-width="0.7"/>
<line x1="431.4" y1="328.5" x2="431.4" y2="330" stroke="#444" stroke-width="0.7"/>
<line x1="433.2" y1="328.5" x2="433.2" y2="330" stroke="#444" stroke-width="0.7"/>
<line x1="445.8" y1="328.5" x2="445.8" y2="330" stroke="#444" stroke-width="0.7"/>
<line x1="452.2" y1="328.5" x2="452.2" y2="330" stroke="#444" stroke-width="0.7"/>
<line x1="456.7" y1="328.5" x2="456.7" y2="330" stroke="#444" stroke-width="0.7"/>
<line x1="460.2" y1="328.5" x2="460.2" y2="330" stroke="#444" stroke-width="0.7"/>
<line x1="463.1" y1="328.5" x2="463.1" y2="330" stroke="#444" stroke-width="0.7"/>
<line x1="465.5" y1="328.5" x2="465.5" y2="330" stroke="#444" stroke-width="0.7"/>
<line x1="467.6" y1="328.5" x2="467.6" y2="330" stroke="#444" stroke-width="0.7"/>
<line x1="469.4" y1="328.5" x2="469.4" y2="330" stroke="#444" stroke-width="0.7"/>
<line x1="482" y1="328.5" x2="482" y2="330" stroke="#444" stroke-width="0.7"/>
<line x1="488.4" y1="328.5" x2="488.4" y2="330" stroke="#444" stroke-width="0.7"/>
<line x1="492.9" y1="328.5" x2="492.9" y2="330" stroke="#444" stroke-width="0.7"/>
<line x1="496.4" y1="328.5" x2="496.4" y2="330" stroke="#444" stroke-width="0.7"/>
<line x1="499.3" y1="328.5" x2="499.3" y2="330" stroke="#444" stroke-width="0.7"/>
<line x1="501.7" y1="328.5" x2="501.7" y2="330" stroke="#444" stroke-width="0.7"/>
<line x1="503.8" y1="328.5" x2="503.8" y2="330" stroke="#444" stroke-width="0.7"/>
<line x1="505.6" y1="328.5" x2="505.6" y2="330" stroke="#444" stroke-width="0.7"/>
<line x1="518.2" y1="328.5" x2="518.2" y2="330" stroke="#444" stroke-width="0.7"/>
<line x1="524.6" y1="328.5" x2="524.6" y2="330" stroke="#444" stroke-width="0.7"/>
<line x1="529.1" y1="328.5" x2="529.1" y2="330" stroke="#444" stroke-width="0.7"/>
<line x1="532.6" y1="328.5" x2="532.6" y2="330" stroke="#444" stroke-width="0.7"/>
<line x1="535.5" y1="328.5" x2="535.5" y2="330" stroke="#444" stroke-width="0.7"/>
<line x1="537.9" y1="328.5" x2="537.9" y2="330" stroke="#444" stroke-width="0.7"/>
<line x1="540" y1="328.5" x2="540" y2="330" stroke="#444" stroke-width="0.7"/>
<line x1="541.8" y1="328.5" x2="541.8" y2="330" stroke="#444" stroke-width="0.7"/>
<text class="lab" x="461.9" y="352.5">APC-A</text>
<text class="lab" transform="translate(382.6,260) rotate(-90)" text-anchor="middle">Count</text>
<text class="let" x="408.5" y="209">f</text>
<clipPath id="cg"><rect x="588.1" y="188.3" width="156.6" height="140.2"/></clipPath>
<g clip-path="url(#cg)" fill="none" stroke-width="0.75" stroke-linejoin="miter">
<polyline stroke="#404040" points="589.1,328.5 590,328.5 590.8,328.5 591.7,328.5 592.5,328.5 593.4,328.5 594.2,328.5 595.1,328.5 595.9,328.5 596.8,328.5 597.6,327.9 598.5,327.8 599.3,328.5 600.2,327.9 601,327.4 601.9,326.5 602.7,326.7 603.6,327.6 604.4,327.5 605.3,325.6 606.1,328.5 607,326.9 607.8,327.4 608.7,327 609.5,327.9 610.4,326.3 611.2,323.5 612.1,323.3 612.9,326.1 613.8,328.3 614.6,319 615.5,321.6 616.3,315.3 617.2,320.4 618,319 618.9,312.5 619.7,316.4 620.6,316.2 621.4,313.6 622.3,315.9 623.1,314.2 624,303.6 624.8,301 625.7,293.8 626.5,297.1 627.4,298 628.2,302.2 629.1,284.1 629.9,279.2 630.8,275.4 631.6,271.5 632.5,276.6 633.3,268.9 634.2,262.7 635,265.2 635.9,242.8 636.7,243.4 637.6,252.8 638.4,249.8 639.3,233.2 640.1,231.1 641,242.6 641.8,226 642.7,243.7 643.5,240.6 644.4,256.1 645.2,247.9 646.1,260.9 646.9,257.5 647.8,257.6 648.6,260.4 649.5,276.8 650.3,267.1 651.2,264.7 652,285.5 652.9,287.4 653.7,293.4 654.6,293.2 655.4,295.2 656.3,289.6 657.1,289.7 658,309.8 658.8,295.1 659.7,306.4 660.5,300.3 661.4,297.5 662.2,306.7 663.1,306.7 663.9,305.5 664.8,316.1 665.6,313.1 666.5,311.4 667.3,315.7 668.2,312.1 669,316.3 669.9,312.6 670.7,317.9 671.6,319.1 672.4,321.4 673.3,320.7 674.1,318.1 675,322.7 675.8,320.3 676.7,324.2 677.5,326.7 678.4,326.8 679.2,328 680.1,327 680.9,327.1 681.8,328.5 682.6,327.6 683.5,327.2 684.3,328.5 685.2,325.3 686,325.3 686.9,326.2 687.7,327.5 688.6,328.3 689.4,328.2 690.3,327.3 691.1,328.5 692,327.7 692.8,328.5 693.7,328.4 694.5,328.4 695.4,328.5 696.2,328.5 697.1,328.5 697.9,328.5 698.8,328.5 699.6,328.5 700.5,328.5 701.3,328.5 702.2,328.5 703,328.5 703.9,328.5 704.7,328.5 705.6,328.5 706.4,328.5 707.3,328.5 708.1,328.5 709,328.5 709.8,328.5 710.7,328.5 711.5,328.5 712.4,328.5 713.2,328.5 714.1,328.5 714.9,328.5 715.8,328.5 716.6,328.5 717.5,328.5 718.3,328.5 719.2,328.5 720,328.5 720.9,328.5 721.7,328.5 722.6,328.5 723.4,328.5 724.3,328.5 725.1,328.5 726,328.5 726.8,328.5 727.7,328.5 728.5,328.5 729.4,328.5 730.2,328.5 731.1,328.5 731.9,328.5 732.8,328.5 733.6,328.5 734.5,328.5 735.3,328.5 736.2,328.5 737,328.5 737.9,328.5 738.7,328.5 739.6,328.5 740.4,328.5 741.3,328.5 742.1,328.5 743,328.5 743.8,328.5 744.7,328.5"/>
<polyline stroke="#f04848" points="589.1,328.5 590,328.5 590.8,328.5 591.7,328.5 592.5,328.5 593.4,328.5 594.2,328.5 595.1,328.5 595.9,328.5 596.8,328.5 597.6,328.2 598.5,328.4 599.3,327.3 600.2,328.3 601,327.1 601.9,327.7 602.7,327.2 603.6,327.1 604.4,327.3 605.3,325.9 606.1,327.9 607,325.5 607.8,326.2 608.7,326.4 609.5,327.2 610.4,324.9 611.2,326.4 612.1,324.5 612.9,323.4 613.8,323 614.6,321.1 615.5,321.1 616.3,321.6 617.2,314.5 618,318.6 618.9,317.1 619.7,308 620.6,308.4 621.4,309.9 622.3,311.2 623.1,306.7 624,301.6 624.8,299.5 625.7,293.7 626.5,292.2 627.4,289.8 628.2,291.9 629.1,287.8 629.9,288.4 630.8,286.4 631.6,278.1 632.5,271.5 633.3,291.4 634.2,276 635,263.4 635.9,260.9 636.7,260.6 637.6,252 638.4,258.6 639.3,243.1 640.1,241.3 641,235.1 641.8,217.4 642.7,218.5 643.5,223.5 644.4,223 645.2,211.1 646.1,212 646.9,206.1 647.8,211.8 648.6,198.4 649.5,198.2 650.3,204.7 651.2,197.2 652,197.4 652.9,206.1 653.7,197.4 654.6,186.5 655.4,197.1 656.3,196.5 657.1,207.7 658,199.1 658.8,216.1 659.7,217.5 660.5,218.1 661.4,211.3 662.2,219.7 663.1,227.3 663.9,244.7 664.8,229.4 665.6,248.4 666.5,251.6 667.3,248.9 668.2,258.5 669,260.9 669.9,264.2 670.7,256.8 671.6,269.5 672.4,278.5 673.3,286.4 674.1,275.5 675,293.2 675.8,287.4 676.7,292.4 677.5,290.1 678.4,293.3 679.2,306.1 680.1,307 680.9,299.7 681.8,304.5 682.6,312.3 683.5,318 684.3,315.8 685.2,319.6 686,315.5 686.9,317.4 687.7,319.9 688.6,321.4 689.4,324 690.3,322.6 691.1,323.4 692,323.3 692.8,325 693.7,325.5 694.5,327.9 695.4,325.6 696.2,326 697.1,328.4 697.9,328.4 698.8,327.9 699.6,327.4 700.5,327.2 701.3,327.7 702.2,327.3 703,328 703.9,327.5 704.7,328.2 705.6,328.5 706.4,327.8 707.3,328.3 708.1,328.5 709,328.5 709.8,328.4 710.7,328.5 711.5,328.5 712.4,328.5 713.2,328.5 714.1,328.5 714.9,328.5 715.8,328.5 716.6,328.5 717.5,328.5 718.3,328.5 719.2,328.5 720,328.5 720.9,328.5 721.7,328.5 722.6,328.5 723.4,328.5 724.3,328.5 725.1,328.5 726,328.5 726.8,328.5 727.7,328.5 728.5,328.5 729.4,328.5 730.2,328.5 731.1,328.5 731.9,328.5 732.8,328.5 733.6,328.5 734.5,328.5 735.3,328.5 736.2,328.5 737,328.5 737.9,328.5 738.7,328.5 739.6,328.5 740.4,328.5 741.3,328.5 742.1,328.5 743,328.5 743.8,328.5 744.7,328.5"/>
</g>
<rect x="588.1" y="188.3" width="156.6" height="140.2" fill="none" stroke="#555" stroke-width="1.3"/>
<line x1="585.1" y1="328.5" x2="588.1" y2="328.5" stroke="#444" stroke-width="1"/>
<text class="t" x="585.3" y="332.4" text-anchor="end" font-size="9.4px">0</text>
<line x1="585.1" y1="293.2" x2="588.1" y2="293.2" stroke="#444" stroke-width="1"/>
<text class="t" x="585.3" y="297.1" text-anchor="end" font-size="9.4px">61</text>
<line x1="585.1" y1="258.5" x2="588.1" y2="258.5" stroke="#444" stroke-width="1"/>
<text class="t" x="585.3" y="262.4" text-anchor="end" font-size="9.4px">121</text>
<line x1="585.1" y1="223.2" x2="588.1" y2="223.2" stroke="#444" stroke-width="1"/>
<text class="t" x="585.3" y="227.1" text-anchor="end" font-size="9.4px">182</text>
<line x1="585.1" y1="188.5" x2="588.1" y2="188.5" stroke="#444" stroke-width="1"/>
<text class="t" x="585.3" y="192.4" text-anchor="end" font-size="9.4px">242</text>
<line x1="586.6" y1="319.8" x2="588.1" y2="319.8" stroke="#444" stroke-width="0.8"/>
<line x1="586.6" y1="311" x2="588.1" y2="311" stroke="#444" stroke-width="0.8"/>
<line x1="586.6" y1="302.2" x2="588.1" y2="302.2" stroke="#444" stroke-width="0.8"/>
<line x1="586.6" y1="284.8" x2="588.1" y2="284.8" stroke="#444" stroke-width="0.8"/>
<line x1="586.6" y1="276" x2="588.1" y2="276" stroke="#444" stroke-width="0.8"/>
<line x1="586.6" y1="267.2" x2="588.1" y2="267.2" stroke="#444" stroke-width="0.8"/>
<line x1="586.6" y1="249.8" x2="588.1" y2="249.8" stroke="#444" stroke-width="0.8"/>
<line x1="586.6" y1="241" x2="588.1" y2="241" stroke="#444" stroke-width="0.8"/>
<line x1="586.6" y1="232.2" x2="588.1" y2="232.2" stroke="#444" stroke-width="0.8"/>
<line x1="586.6" y1="214.8" x2="588.1" y2="214.8" stroke="#444" stroke-width="0.8"/>
<line x1="586.6" y1="206" x2="588.1" y2="206" stroke="#444" stroke-width="0.8"/>
<line x1="586.6" y1="197.2" x2="588.1" y2="197.2" stroke="#444" stroke-width="0.8"/>
<text class="t" x="618.5" y="338.4">10<tspan dy="-2.6" font-size="7.6px">2</tspan></text>
<line x1="625.5" y1="328.5" x2="625.5" y2="331" stroke="#444" stroke-width="1"/>
<text class="t" x="654.8" y="338.4">10<tspan dy="-2.6" font-size="7.6px">3</tspan></text>
<line x1="661.8" y1="328.5" x2="661.8" y2="331" stroke="#444" stroke-width="1"/>
<text class="t" x="689.8" y="338.4">10<tspan dy="-2.6" font-size="7.6px">4</tspan></text>
<line x1="696.8" y1="328.5" x2="696.8" y2="331" stroke="#444" stroke-width="1"/>
<text class="t" x="726" y="338.4">10<tspan dy="-2.6" font-size="7.6px">5</tspan></text>
<line x1="733" y1="328.5" x2="733" y2="331" stroke="#444" stroke-width="1"/>
<line x1="600.5" y1="328.5" x2="600.5" y2="330" stroke="#444" stroke-width="0.7"/>
<line x1="606.8" y1="328.5" x2="606.8" y2="330" stroke="#444" stroke-width="0.7"/>
<line x1="611.2" y1="328.5" x2="611.2" y2="330" stroke="#444" stroke-width="0.7"/>
<line x1="614.7" y1="328.5" x2="614.7" y2="330" stroke="#444" stroke-width="0.7"/>
<line x1="617.6" y1="328.5" x2="617.6" y2="330" stroke="#444" stroke-width="0.7"/>
<line x1="619.9" y1="328.5" x2="619.9" y2="330" stroke="#444" stroke-width="0.7"/>
<line x1="622" y1="328.5" x2="622" y2="330" stroke="#444" stroke-width="0.7"/>
<line x1="623.9" y1="328.5" x2="623.9" y2="330" stroke="#444" stroke-width="0.7"/>
<line x1="636.3" y1="328.5" x2="636.3" y2="330" stroke="#444" stroke-width="0.7"/>
<line x1="642.6" y1="328.5" x2="642.6" y2="330" stroke="#444" stroke-width="0.7"/>
<line x1="647.1" y1="328.5" x2="647.1" y2="330" stroke="#444" stroke-width="0.7"/>
<line x1="650.5" y1="328.5" x2="650.5" y2="330" stroke="#444" stroke-width="0.7"/>
<line x1="653.4" y1="328.5" x2="653.4" y2="330" stroke="#444" stroke-width="0.7"/>
<line x1="655.8" y1="328.5" x2="655.8" y2="330" stroke="#444" stroke-width="0.7"/>
<line x1="657.9" y1="328.5" x2="657.9" y2="330" stroke="#444" stroke-width="0.7"/>
<line x1="659.7" y1="328.5" x2="659.7" y2="330" stroke="#444" stroke-width="0.7"/>
<line x1="672.1" y1="328.5" x2="672.1" y2="330" stroke="#444" stroke-width="0.7"/>
<line x1="678.4" y1="328.5" x2="678.4" y2="330" stroke="#444" stroke-width="0.7"/>
<line x1="682.9" y1="328.5" x2="682.9" y2="330" stroke="#444" stroke-width="0.7"/>
<line x1="686.4" y1="328.5" x2="686.4" y2="330" stroke="#444" stroke-width="0.7"/>
<line x1="689.2" y1="328.5" x2="689.2" y2="330" stroke="#444" stroke-width="0.7"/>
<line x1="691.6" y1="328.5" x2="691.6" y2="330" stroke="#444" stroke-width="0.7"/>
<line x1="693.7" y1="328.5" x2="693.7" y2="330" stroke="#444" stroke-width="0.7"/>
<line x1="695.5" y1="328.5" x2="695.5" y2="330" stroke="#444" stroke-width="0.7"/>
<line x1="708" y1="328.5" x2="708" y2="330" stroke="#444" stroke-width="0.7"/>
<line x1="714.3" y1="328.5" x2="714.3" y2="330" stroke="#444" stroke-width="0.7"/>
<line x1="718.7" y1="328.5" x2="718.7" y2="330" stroke="#444" stroke-width="0.7"/>
<line x1="722.2" y1="328.5" x2="722.2" y2="330" stroke="#444" stroke-width="0.7"/>
<line x1="725.1" y1="328.5" x2="725.1" y2="330" stroke="#444" stroke-width="0.7"/>
<line x1="727.4" y1="328.5" x2="727.4" y2="330" stroke="#444" stroke-width="0.7"/>
<line x1="729.5" y1="328.5" x2="729.5" y2="330" stroke="#444" stroke-width="0.7"/>
<line x1="731.4" y1="328.5" x2="731.4" y2="330" stroke="#444" stroke-width="0.7"/>
<text class="lab" x="651.4" y="352.5">APC-A</text>
<text class="lab" transform="translate(570.2,260) rotate(-90)" text-anchor="middle">Count</text>
<text class="let" x="598.1" y="205.2">g</text>
</svg></body></html>
